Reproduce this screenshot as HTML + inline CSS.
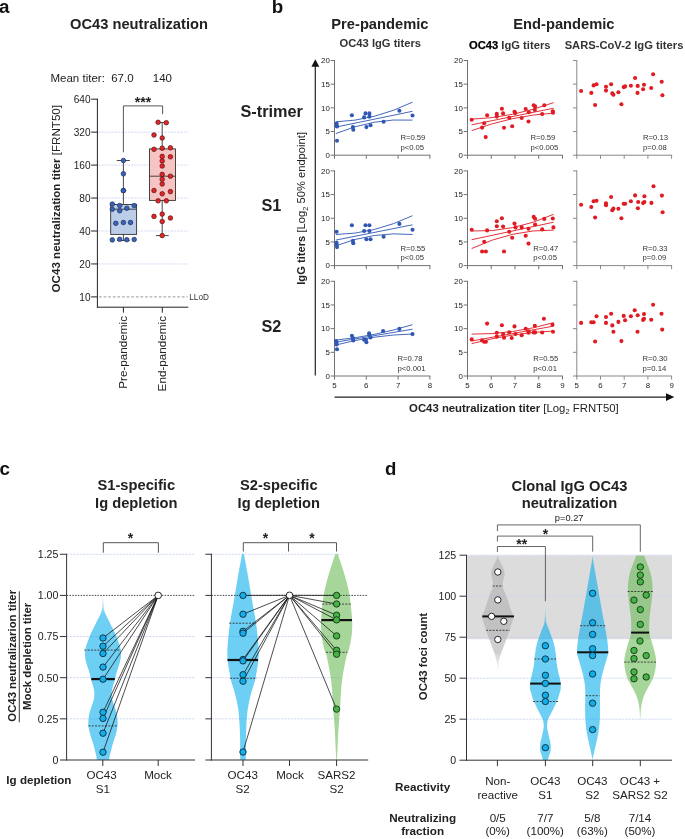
<!DOCTYPE html>
<html><head><meta charset="utf-8"><style>
html,body{margin:0;padding:0;background:#fff;}
svg{display:block;font-family:"Liberation Sans", sans-serif;will-change:transform;}
</style></head><body>
<svg width="685" height="839" viewBox="0 0 685 839">
<rect width="685" height="839" fill="#fff"/>
<text x="-1.00" y="13.40" font-size="18.8" font-weight="bold" text-anchor="start" fill="#111">a</text>
<text x="271.70" y="13.40" font-size="18.8" font-weight="bold" text-anchor="start" fill="#111">b</text>
<text x="-0.50" y="474.70" font-size="18.8" font-weight="bold" text-anchor="start" fill="#111">c</text>
<text x="385.00" y="474.50" font-size="18.6" font-weight="bold" text-anchor="start" fill="#111">d</text>
<text x="139.00" y="29.20" font-size="14.7" font-weight="bold" text-anchor="middle" fill="#222">OC43 neutralization</text>
<text x="50.50" y="81.60" font-size="11.5" text-anchor="start" fill="#222">Mean titer:</text>
<text x="111.20" y="81.60" font-size="11.5" text-anchor="start" fill="#222">67.0</text>
<text x="152.80" y="81.60" font-size="11.5" text-anchor="start" fill="#222">140</text>
<line x1="98.00" y1="132.15" x2="188.00" y2="132.15" stroke="#d5ddf3" stroke-width="1" stroke-dasharray="2.4,0.9"/>
<line x1="98.00" y1="165.10" x2="188.00" y2="165.10" stroke="#d5ddf3" stroke-width="1" stroke-dasharray="2.4,0.9"/>
<line x1="98.00" y1="198.05" x2="188.00" y2="198.05" stroke="#d5ddf3" stroke-width="1" stroke-dasharray="2.4,0.9"/>
<line x1="98.00" y1="231.00" x2="188.00" y2="231.00" stroke="#d5ddf3" stroke-width="1" stroke-dasharray="2.4,0.9"/>
<line x1="98.00" y1="263.95" x2="188.00" y2="263.95" stroke="#d5ddf3" stroke-width="1" stroke-dasharray="2.4,0.9"/>
<line x1="99.00" y1="296.90" x2="187.50" y2="296.90" stroke="#999" stroke-width="1" stroke-dasharray="2.8,1.8"/>
<text x="189.30" y="299.80" font-size="8.2" text-anchor="start" fill="#333">LLoD</text>
<line x1="97.40" y1="98.70" x2="97.40" y2="307.70" stroke="#222" stroke-width="1"/>
<line x1="96.90" y1="307.20" x2="188.30" y2="307.20" stroke="#222" stroke-width="1"/>
<line x1="91.20" y1="99.20" x2="97.40" y2="99.20" stroke="#222" stroke-width="1"/>
<text x="90.60" y="102.80" font-size="10.1" text-anchor="end" fill="#222">640</text>
<line x1="91.20" y1="132.15" x2="97.40" y2="132.15" stroke="#222" stroke-width="1"/>
<text x="90.60" y="135.75" font-size="10.1" text-anchor="end" fill="#222">320</text>
<line x1="91.20" y1="165.10" x2="97.40" y2="165.10" stroke="#222" stroke-width="1"/>
<text x="90.60" y="168.70" font-size="10.1" text-anchor="end" fill="#222">160</text>
<line x1="91.20" y1="198.05" x2="97.40" y2="198.05" stroke="#222" stroke-width="1"/>
<text x="90.60" y="201.65" font-size="10.1" text-anchor="end" fill="#222">80</text>
<line x1="91.20" y1="231.00" x2="97.40" y2="231.00" stroke="#222" stroke-width="1"/>
<text x="90.60" y="234.60" font-size="10.1" text-anchor="end" fill="#222">40</text>
<line x1="91.20" y1="263.95" x2="97.40" y2="263.95" stroke="#222" stroke-width="1"/>
<text x="90.60" y="267.55" font-size="10.1" text-anchor="end" fill="#222">20</text>
<line x1="91.20" y1="296.90" x2="97.40" y2="296.90" stroke="#222" stroke-width="1"/>
<text x="90.60" y="300.50" font-size="10.1" text-anchor="end" fill="#222">10</text>
<line x1="123.40" y1="307.20" x2="123.40" y2="312.70" stroke="#222" stroke-width="1"/>
<line x1="162.30" y1="307.20" x2="162.30" y2="312.70" stroke="#222" stroke-width="1"/>
<text x="0" y="0" font-size="11.6" text-anchor="middle" fill="#222" transform="translate(59.7 198.7) rotate(-90)"><tspan font-weight="bold">OC43 neutralization titer</tspan> [FRNT50]</text>
<text x="0.00" y="0.00" font-size="11.7" text-anchor="end" fill="#222" transform="translate(127.4 316) rotate(-90)">Pre-pandemic</text>
<text x="0.00" y="0.00" font-size="11.7" text-anchor="end" fill="#222" transform="translate(166.3 316) rotate(-90)">End-pandemic</text>
<rect x="110.7" y="204.5" width="25.9" height="29.9" fill="#bccde9" stroke="#333" stroke-width="0.9"/>
<line x1="110.70" y1="209.20" x2="136.60" y2="209.20" stroke="#333" stroke-width="0.9"/>
<line x1="123.40" y1="160.50" x2="123.40" y2="204.50" stroke="#333" stroke-width="0.9"/>
<line x1="123.40" y1="234.40" x2="123.40" y2="240.50" stroke="#333" stroke-width="0.9"/>
<line x1="117.00" y1="240.50" x2="129.70" y2="240.50" stroke="#333" stroke-width="0.9"/>
<line x1="116.80" y1="160.50" x2="129.90" y2="160.50" stroke="#333" stroke-width="0.9"/>
<rect x="149.5" y="148.9" width="26" height="51.5" fill="#f6c5c3" stroke="#333" stroke-width="0.9"/>
<line x1="149.50" y1="176.20" x2="175.50" y2="176.20" stroke="#333" stroke-width="0.9"/>
<line x1="162.20" y1="122.50" x2="162.20" y2="148.90" stroke="#333" stroke-width="0.9"/>
<line x1="162.20" y1="200.40" x2="162.20" y2="235.60" stroke="#333" stroke-width="0.9"/>
<line x1="156.00" y1="235.60" x2="168.70" y2="235.60" stroke="#333" stroke-width="0.9"/>
<line x1="156.00" y1="122.50" x2="168.30" y2="122.50" stroke="#333" stroke-width="0.9"/>
<polyline points="123.40,152.30 123.40,105.90 162.60,105.90 162.60,114.10" stroke="#444" stroke-width="0.9" fill="none"/>
<text x="143.00" y="106.60" font-size="14" font-weight="bold" text-anchor="middle" fill="#222">***</text>
<circle cx="123.40" cy="160.50" r="2.3" fill="#3a62b5" stroke="#1c2f5e" stroke-width="0.7"/>
<circle cx="123.40" cy="173.80" r="2.3" fill="#3a62b5" stroke="#1c2f5e" stroke-width="0.7"/>
<circle cx="123.40" cy="190.50" r="2.3" fill="#3a62b5" stroke="#1c2f5e" stroke-width="0.7"/>
<circle cx="123.40" cy="190.60" r="2.3" fill="#3a62b5" stroke="#1c2f5e" stroke-width="0.7"/>
<circle cx="112.30" cy="204.10" r="2.3" fill="#3a62b5" stroke="#1c2f5e" stroke-width="0.7"/>
<circle cx="119.70" cy="205.50" r="2.3" fill="#3a62b5" stroke="#1c2f5e" stroke-width="0.7"/>
<circle cx="134.20" cy="205.50" r="2.3" fill="#3a62b5" stroke="#1c2f5e" stroke-width="0.7"/>
<circle cx="112.30" cy="209.20" r="2.3" fill="#3a62b5" stroke="#1c2f5e" stroke-width="0.7"/>
<circle cx="119.70" cy="210.70" r="2.3" fill="#3a62b5" stroke="#1c2f5e" stroke-width="0.7"/>
<circle cx="126.80" cy="208.20" r="2.3" fill="#3a62b5" stroke="#1c2f5e" stroke-width="0.7"/>
<circle cx="115.80" cy="223.30" r="2.3" fill="#3a62b5" stroke="#1c2f5e" stroke-width="0.7"/>
<circle cx="123.40" cy="222.50" r="2.3" fill="#3a62b5" stroke="#1c2f5e" stroke-width="0.7"/>
<circle cx="130.50" cy="222.50" r="2.3" fill="#3a62b5" stroke="#1c2f5e" stroke-width="0.7"/>
<circle cx="112.30" cy="239.90" r="2.3" fill="#3a62b5" stroke="#1c2f5e" stroke-width="0.7"/>
<circle cx="119.70" cy="239.30" r="2.3" fill="#3a62b5" stroke="#1c2f5e" stroke-width="0.7"/>
<circle cx="126.80" cy="239.70" r="2.3" fill="#3a62b5" stroke="#1c2f5e" stroke-width="0.7"/>
<circle cx="134.20" cy="239.50" r="2.3" fill="#3a62b5" stroke="#1c2f5e" stroke-width="0.7"/>
<circle cx="158.10" cy="122.30" r="2.3" fill="#e0262a" stroke="#5a1010" stroke-width="0.7"/>
<circle cx="166.30" cy="122.70" r="2.3" fill="#e0262a" stroke="#5a1010" stroke-width="0.7"/>
<circle cx="154.00" cy="135.00" r="2.3" fill="#e0262a" stroke="#5a1010" stroke-width="0.7"/>
<circle cx="162.20" cy="138.00" r="2.3" fill="#e0262a" stroke="#5a1010" stroke-width="0.7"/>
<circle cx="154.00" cy="149.30" r="2.3" fill="#e0262a" stroke="#5a1010" stroke-width="0.7"/>
<circle cx="162.20" cy="148.20" r="2.3" fill="#e0262a" stroke="#5a1010" stroke-width="0.7"/>
<circle cx="170.40" cy="147.80" r="2.3" fill="#e0262a" stroke="#5a1010" stroke-width="0.7"/>
<circle cx="162.20" cy="156.40" r="2.3" fill="#e0262a" stroke="#5a1010" stroke-width="0.7"/>
<circle cx="170.40" cy="156.80" r="2.3" fill="#e0262a" stroke="#5a1010" stroke-width="0.7"/>
<circle cx="162.20" cy="160.90" r="2.3" fill="#e0262a" stroke="#5a1010" stroke-width="0.7"/>
<circle cx="162.20" cy="166.00" r="2.3" fill="#e0262a" stroke="#5a1010" stroke-width="0.7"/>
<circle cx="162.20" cy="174.40" r="2.3" fill="#e0262a" stroke="#5a1010" stroke-width="0.7"/>
<circle cx="170.40" cy="176.20" r="2.3" fill="#e0262a" stroke="#5a1010" stroke-width="0.7"/>
<circle cx="162.20" cy="179.30" r="2.3" fill="#e0262a" stroke="#5a1010" stroke-width="0.7"/>
<circle cx="162.20" cy="184.00" r="2.3" fill="#e0262a" stroke="#5a1010" stroke-width="0.7"/>
<circle cx="154.00" cy="190.50" r="2.3" fill="#e0262a" stroke="#5a1010" stroke-width="0.7"/>
<circle cx="162.20" cy="193.80" r="2.3" fill="#e0262a" stroke="#5a1010" stroke-width="0.7"/>
<circle cx="170.40" cy="191.60" r="2.3" fill="#e0262a" stroke="#5a1010" stroke-width="0.7"/>
<circle cx="158.10" cy="200.80" r="2.3" fill="#e0262a" stroke="#5a1010" stroke-width="0.7"/>
<circle cx="166.30" cy="200.80" r="2.3" fill="#e0262a" stroke="#5a1010" stroke-width="0.7"/>
<circle cx="154.00" cy="216.40" r="2.3" fill="#e0262a" stroke="#5a1010" stroke-width="0.7"/>
<circle cx="162.20" cy="214.10" r="2.3" fill="#e0262a" stroke="#5a1010" stroke-width="0.7"/>
<circle cx="170.40" cy="218.00" r="2.3" fill="#e0262a" stroke="#5a1010" stroke-width="0.7"/>
<circle cx="162.20" cy="221.50" r="2.3" fill="#e0262a" stroke="#5a1010" stroke-width="0.7"/>
<circle cx="162.20" cy="235.60" r="2.3" fill="#e0262a" stroke="#5a1010" stroke-width="0.7"/>
<text x="379.90" y="28.90" font-size="14.7" font-weight="bold" text-anchor="middle" fill="#222">Pre-pandemic</text>
<text x="380.30" y="47.10" font-size="11.2" font-weight="bold" text-anchor="middle" fill="#333">OC43 IgG titers</text>
<text x="563.90" y="29.00" font-size="14.7" font-weight="bold" text-anchor="middle" fill="#222">End-pandemic</text>
<text x="469.0" y="49.0" font-size="11.2" font-weight="bold" fill="#333"><tspan fill="#000" stroke="#000" stroke-width="0.25">OC43</tspan> IgG titers</text>
<text x="624.00" y="49.00" font-size="11.2" font-weight="bold" text-anchor="middle" fill="#333">SARS-CoV-2 IgG titers</text>
<text x="240.50" y="116.70" font-size="16.3" font-weight="bold" text-anchor="start" fill="#222">S-trimer</text>
<text x="261.50" y="210.70" font-size="16.3" font-weight="bold" text-anchor="start" fill="#222">S1</text>
<text x="261.50" y="331.90" font-size="16.3" font-weight="bold" text-anchor="start" fill="#222">S2</text>
<line x1="315.30" y1="64.00" x2="315.30" y2="375.50" stroke="#222" stroke-width="1.2"/>
<polygon points="315.3,59.3 311.4,66.7 319.3,66.7" fill="#111"/>
<text x="0" y="0" font-size="11.2" text-anchor="middle" fill="#222" transform="translate(305.3 208.4) rotate(-90)"><tspan font-weight="bold">IgG titers</tspan> [Log<tspan font-size="7.5" dy="2.5">2</tspan><tspan dy="-2.5"> 50% endpoint]</tspan></text>
<line x1="334.50" y1="397.10" x2="668.00" y2="397.10" stroke="#222" stroke-width="1.2"/>
<polygon points="674.3,397.1 666,393.3 666,400.9" fill="#111"/>
<text x="409.1" y="411.9" font-size="11.35" fill="#222"><tspan font-weight="bold">OC43 neutralization titer</tspan> [Log<tspan font-size="7.5" dy="2.5">2</tspan><tspan dy="-2.5"> FRNT50]</tspan></text>
<line x1="334.50" y1="60.00" x2="334.50" y2="155.70" stroke="#727272" stroke-width="1"/>
<line x1="334.00" y1="155.20" x2="430.40" y2="155.20" stroke="#727272" stroke-width="1"/>
<line x1="330.70" y1="155.20" x2="334.50" y2="155.20" stroke="#727272" stroke-width="1"/>
<text x="329.90" y="157.95" font-size="7.9" text-anchor="end" fill="#222">0</text>
<line x1="330.70" y1="131.52" x2="334.50" y2="131.52" stroke="#727272" stroke-width="1"/>
<text x="329.90" y="134.27" font-size="7.9" text-anchor="end" fill="#222">5</text>
<line x1="330.70" y1="107.85" x2="334.50" y2="107.85" stroke="#727272" stroke-width="1"/>
<text x="329.90" y="110.60" font-size="7.9" text-anchor="end" fill="#222">10</text>
<line x1="330.70" y1="84.17" x2="334.50" y2="84.17" stroke="#727272" stroke-width="1"/>
<text x="329.90" y="86.92" font-size="7.9" text-anchor="end" fill="#222">15</text>
<line x1="330.70" y1="60.50" x2="334.50" y2="60.50" stroke="#727272" stroke-width="1"/>
<text x="329.90" y="63.25" font-size="7.9" text-anchor="end" fill="#222">20</text>
<line x1="334.50" y1="155.20" x2="334.50" y2="158.80" stroke="#727272" stroke-width="1"/>
<line x1="366.30" y1="155.20" x2="366.30" y2="158.80" stroke="#727272" stroke-width="1"/>
<line x1="398.10" y1="155.20" x2="398.10" y2="158.80" stroke="#727272" stroke-width="1"/>
<line x1="429.90" y1="155.20" x2="429.90" y2="158.80" stroke="#727272" stroke-width="1"/>
<line x1="467.50" y1="60.00" x2="467.50" y2="155.70" stroke="#727272" stroke-width="1"/>
<line x1="467.00" y1="155.20" x2="563.00" y2="155.20" stroke="#727272" stroke-width="1"/>
<line x1="463.70" y1="155.20" x2="467.50" y2="155.20" stroke="#727272" stroke-width="1"/>
<text x="462.90" y="157.95" font-size="7.9" text-anchor="end" fill="#222">0</text>
<line x1="463.70" y1="131.52" x2="467.50" y2="131.52" stroke="#727272" stroke-width="1"/>
<text x="462.90" y="134.27" font-size="7.9" text-anchor="end" fill="#222">5</text>
<line x1="463.70" y1="107.85" x2="467.50" y2="107.85" stroke="#727272" stroke-width="1"/>
<text x="462.90" y="110.60" font-size="7.9" text-anchor="end" fill="#222">10</text>
<line x1="463.70" y1="84.17" x2="467.50" y2="84.17" stroke="#727272" stroke-width="1"/>
<text x="462.90" y="86.92" font-size="7.9" text-anchor="end" fill="#222">15</text>
<line x1="463.70" y1="60.50" x2="467.50" y2="60.50" stroke="#727272" stroke-width="1"/>
<text x="462.90" y="63.25" font-size="7.9" text-anchor="end" fill="#222">20</text>
<line x1="467.50" y1="155.20" x2="467.50" y2="158.80" stroke="#727272" stroke-width="1"/>
<line x1="491.25" y1="155.20" x2="491.25" y2="158.80" stroke="#727272" stroke-width="1"/>
<line x1="515.00" y1="155.20" x2="515.00" y2="158.80" stroke="#727272" stroke-width="1"/>
<line x1="538.75" y1="155.20" x2="538.75" y2="158.80" stroke="#727272" stroke-width="1"/>
<line x1="562.50" y1="155.20" x2="562.50" y2="158.80" stroke="#727272" stroke-width="1"/>
<line x1="576.80" y1="60.00" x2="576.80" y2="155.70" stroke="#888" stroke-width="1"/>
<line x1="576.30" y1="155.20" x2="672.10" y2="155.20" stroke="#888" stroke-width="1"/>
<line x1="573.00" y1="155.20" x2="576.80" y2="155.20" stroke="#888" stroke-width="1"/>
<line x1="573.00" y1="131.52" x2="576.80" y2="131.52" stroke="#888" stroke-width="1"/>
<line x1="573.00" y1="107.85" x2="576.80" y2="107.85" stroke="#888" stroke-width="1"/>
<line x1="573.00" y1="84.17" x2="576.80" y2="84.17" stroke="#888" stroke-width="1"/>
<line x1="573.00" y1="60.50" x2="576.80" y2="60.50" stroke="#888" stroke-width="1"/>
<line x1="576.80" y1="155.20" x2="576.80" y2="158.80" stroke="#888" stroke-width="1"/>
<line x1="600.50" y1="155.20" x2="600.50" y2="158.80" stroke="#888" stroke-width="1"/>
<line x1="624.20" y1="155.20" x2="624.20" y2="158.80" stroke="#888" stroke-width="1"/>
<line x1="647.90" y1="155.20" x2="647.90" y2="158.80" stroke="#888" stroke-width="1"/>
<line x1="671.60" y1="155.20" x2="671.60" y2="158.80" stroke="#888" stroke-width="1"/>
<line x1="334.50" y1="170.40" x2="334.50" y2="266.10" stroke="#727272" stroke-width="1"/>
<line x1="334.00" y1="265.60" x2="430.40" y2="265.60" stroke="#727272" stroke-width="1"/>
<line x1="330.70" y1="265.60" x2="334.50" y2="265.60" stroke="#727272" stroke-width="1"/>
<text x="329.90" y="268.35" font-size="7.9" text-anchor="end" fill="#222">0</text>
<line x1="330.70" y1="241.93" x2="334.50" y2="241.93" stroke="#727272" stroke-width="1"/>
<text x="329.90" y="244.68" font-size="7.9" text-anchor="end" fill="#222">5</text>
<line x1="330.70" y1="218.25" x2="334.50" y2="218.25" stroke="#727272" stroke-width="1"/>
<text x="329.90" y="221.00" font-size="7.9" text-anchor="end" fill="#222">10</text>
<line x1="330.70" y1="194.58" x2="334.50" y2="194.58" stroke="#727272" stroke-width="1"/>
<text x="329.90" y="197.33" font-size="7.9" text-anchor="end" fill="#222">15</text>
<line x1="330.70" y1="170.90" x2="334.50" y2="170.90" stroke="#727272" stroke-width="1"/>
<text x="329.90" y="173.65" font-size="7.9" text-anchor="end" fill="#222">20</text>
<line x1="334.50" y1="265.60" x2="334.50" y2="269.20" stroke="#727272" stroke-width="1"/>
<line x1="366.30" y1="265.60" x2="366.30" y2="269.20" stroke="#727272" stroke-width="1"/>
<line x1="398.10" y1="265.60" x2="398.10" y2="269.20" stroke="#727272" stroke-width="1"/>
<line x1="429.90" y1="265.60" x2="429.90" y2="269.20" stroke="#727272" stroke-width="1"/>
<line x1="467.50" y1="170.40" x2="467.50" y2="266.10" stroke="#727272" stroke-width="1"/>
<line x1="467.00" y1="265.60" x2="563.00" y2="265.60" stroke="#727272" stroke-width="1"/>
<line x1="463.70" y1="265.60" x2="467.50" y2="265.60" stroke="#727272" stroke-width="1"/>
<text x="462.90" y="268.35" font-size="7.9" text-anchor="end" fill="#222">0</text>
<line x1="463.70" y1="241.93" x2="467.50" y2="241.93" stroke="#727272" stroke-width="1"/>
<text x="462.90" y="244.68" font-size="7.9" text-anchor="end" fill="#222">5</text>
<line x1="463.70" y1="218.25" x2="467.50" y2="218.25" stroke="#727272" stroke-width="1"/>
<text x="462.90" y="221.00" font-size="7.9" text-anchor="end" fill="#222">10</text>
<line x1="463.70" y1="194.58" x2="467.50" y2="194.58" stroke="#727272" stroke-width="1"/>
<text x="462.90" y="197.33" font-size="7.9" text-anchor="end" fill="#222">15</text>
<line x1="463.70" y1="170.90" x2="467.50" y2="170.90" stroke="#727272" stroke-width="1"/>
<text x="462.90" y="173.65" font-size="7.9" text-anchor="end" fill="#222">20</text>
<line x1="467.50" y1="265.60" x2="467.50" y2="269.20" stroke="#727272" stroke-width="1"/>
<line x1="491.25" y1="265.60" x2="491.25" y2="269.20" stroke="#727272" stroke-width="1"/>
<line x1="515.00" y1="265.60" x2="515.00" y2="269.20" stroke="#727272" stroke-width="1"/>
<line x1="538.75" y1="265.60" x2="538.75" y2="269.20" stroke="#727272" stroke-width="1"/>
<line x1="562.50" y1="265.60" x2="562.50" y2="269.20" stroke="#727272" stroke-width="1"/>
<line x1="576.80" y1="170.40" x2="576.80" y2="266.10" stroke="#888" stroke-width="1"/>
<line x1="576.30" y1="265.60" x2="672.10" y2="265.60" stroke="#888" stroke-width="1"/>
<line x1="573.00" y1="265.60" x2="576.80" y2="265.60" stroke="#888" stroke-width="1"/>
<line x1="573.00" y1="241.93" x2="576.80" y2="241.93" stroke="#888" stroke-width="1"/>
<line x1="573.00" y1="218.25" x2="576.80" y2="218.25" stroke="#888" stroke-width="1"/>
<line x1="573.00" y1="194.58" x2="576.80" y2="194.58" stroke="#888" stroke-width="1"/>
<line x1="573.00" y1="170.90" x2="576.80" y2="170.90" stroke="#888" stroke-width="1"/>
<line x1="576.80" y1="265.60" x2="576.80" y2="269.20" stroke="#888" stroke-width="1"/>
<line x1="600.50" y1="265.60" x2="600.50" y2="269.20" stroke="#888" stroke-width="1"/>
<line x1="624.20" y1="265.60" x2="624.20" y2="269.20" stroke="#888" stroke-width="1"/>
<line x1="647.90" y1="265.60" x2="647.90" y2="269.20" stroke="#888" stroke-width="1"/>
<line x1="671.60" y1="265.60" x2="671.60" y2="269.20" stroke="#888" stroke-width="1"/>
<line x1="334.50" y1="280.80" x2="334.50" y2="376.50" stroke="#727272" stroke-width="1"/>
<line x1="334.00" y1="376.00" x2="430.40" y2="376.00" stroke="#727272" stroke-width="1"/>
<line x1="330.70" y1="376.00" x2="334.50" y2="376.00" stroke="#727272" stroke-width="1"/>
<text x="329.90" y="378.75" font-size="7.9" text-anchor="end" fill="#222">0</text>
<line x1="330.70" y1="352.32" x2="334.50" y2="352.32" stroke="#727272" stroke-width="1"/>
<text x="329.90" y="355.07" font-size="7.9" text-anchor="end" fill="#222">5</text>
<line x1="330.70" y1="328.65" x2="334.50" y2="328.65" stroke="#727272" stroke-width="1"/>
<text x="329.90" y="331.40" font-size="7.9" text-anchor="end" fill="#222">10</text>
<line x1="330.70" y1="304.98" x2="334.50" y2="304.98" stroke="#727272" stroke-width="1"/>
<text x="329.90" y="307.73" font-size="7.9" text-anchor="end" fill="#222">15</text>
<line x1="330.70" y1="281.30" x2="334.50" y2="281.30" stroke="#727272" stroke-width="1"/>
<text x="329.90" y="284.05" font-size="7.9" text-anchor="end" fill="#222">20</text>
<line x1="334.50" y1="376.00" x2="334.50" y2="379.60" stroke="#727272" stroke-width="1"/>
<text x="334.50" y="388.20" font-size="7.9" text-anchor="middle" fill="#222">5</text>
<line x1="366.30" y1="376.00" x2="366.30" y2="379.60" stroke="#727272" stroke-width="1"/>
<text x="366.30" y="388.20" font-size="7.9" text-anchor="middle" fill="#222">6</text>
<line x1="398.10" y1="376.00" x2="398.10" y2="379.60" stroke="#727272" stroke-width="1"/>
<text x="398.10" y="388.20" font-size="7.9" text-anchor="middle" fill="#222">7</text>
<line x1="429.90" y1="376.00" x2="429.90" y2="379.60" stroke="#727272" stroke-width="1"/>
<text x="429.90" y="388.20" font-size="7.9" text-anchor="middle" fill="#222">8</text>
<line x1="467.50" y1="280.80" x2="467.50" y2="376.50" stroke="#727272" stroke-width="1"/>
<line x1="467.00" y1="376.00" x2="563.00" y2="376.00" stroke="#727272" stroke-width="1"/>
<line x1="463.70" y1="376.00" x2="467.50" y2="376.00" stroke="#727272" stroke-width="1"/>
<text x="462.90" y="378.75" font-size="7.9" text-anchor="end" fill="#222">0</text>
<line x1="463.70" y1="352.32" x2="467.50" y2="352.32" stroke="#727272" stroke-width="1"/>
<text x="462.90" y="355.07" font-size="7.9" text-anchor="end" fill="#222">5</text>
<line x1="463.70" y1="328.65" x2="467.50" y2="328.65" stroke="#727272" stroke-width="1"/>
<text x="462.90" y="331.40" font-size="7.9" text-anchor="end" fill="#222">10</text>
<line x1="463.70" y1="304.98" x2="467.50" y2="304.98" stroke="#727272" stroke-width="1"/>
<text x="462.90" y="307.73" font-size="7.9" text-anchor="end" fill="#222">15</text>
<line x1="463.70" y1="281.30" x2="467.50" y2="281.30" stroke="#727272" stroke-width="1"/>
<text x="462.90" y="284.05" font-size="7.9" text-anchor="end" fill="#222">20</text>
<line x1="467.50" y1="376.00" x2="467.50" y2="379.60" stroke="#727272" stroke-width="1"/>
<text x="467.50" y="388.20" font-size="7.9" text-anchor="middle" fill="#222">5</text>
<line x1="491.25" y1="376.00" x2="491.25" y2="379.60" stroke="#727272" stroke-width="1"/>
<text x="491.25" y="388.20" font-size="7.9" text-anchor="middle" fill="#222">6</text>
<line x1="515.00" y1="376.00" x2="515.00" y2="379.60" stroke="#727272" stroke-width="1"/>
<text x="515.00" y="388.20" font-size="7.9" text-anchor="middle" fill="#222">7</text>
<line x1="538.75" y1="376.00" x2="538.75" y2="379.60" stroke="#727272" stroke-width="1"/>
<text x="538.75" y="388.20" font-size="7.9" text-anchor="middle" fill="#222">8</text>
<line x1="562.50" y1="376.00" x2="562.50" y2="379.60" stroke="#727272" stroke-width="1"/>
<text x="562.50" y="388.20" font-size="7.9" text-anchor="middle" fill="#222">9</text>
<line x1="576.80" y1="280.80" x2="576.80" y2="376.50" stroke="#888" stroke-width="1"/>
<line x1="576.30" y1="376.00" x2="672.10" y2="376.00" stroke="#888" stroke-width="1"/>
<line x1="573.00" y1="376.00" x2="576.80" y2="376.00" stroke="#888" stroke-width="1"/>
<line x1="573.00" y1="352.32" x2="576.80" y2="352.32" stroke="#888" stroke-width="1"/>
<line x1="573.00" y1="328.65" x2="576.80" y2="328.65" stroke="#888" stroke-width="1"/>
<line x1="573.00" y1="304.98" x2="576.80" y2="304.98" stroke="#888" stroke-width="1"/>
<line x1="573.00" y1="281.30" x2="576.80" y2="281.30" stroke="#888" stroke-width="1"/>
<line x1="576.80" y1="376.00" x2="576.80" y2="379.60" stroke="#888" stroke-width="1"/>
<text x="576.80" y="388.20" font-size="7.9" text-anchor="middle" fill="#222">5</text>
<line x1="600.50" y1="376.00" x2="600.50" y2="379.60" stroke="#888" stroke-width="1"/>
<text x="600.50" y="388.20" font-size="7.9" text-anchor="middle" fill="#222">6</text>
<line x1="624.20" y1="376.00" x2="624.20" y2="379.60" stroke="#888" stroke-width="1"/>
<text x="624.20" y="388.20" font-size="7.9" text-anchor="middle" fill="#222">7</text>
<line x1="647.90" y1="376.00" x2="647.90" y2="379.60" stroke="#888" stroke-width="1"/>
<text x="647.90" y="388.20" font-size="7.9" text-anchor="middle" fill="#222">8</text>
<line x1="671.60" y1="376.00" x2="671.60" y2="379.60" stroke="#888" stroke-width="1"/>
<text x="671.60" y="388.20" font-size="7.9" text-anchor="middle" fill="#222">9</text>
<path d="M335.80,121.80 Q374.15,120.64 412.50,102.20" stroke="#2f57b3" stroke-width="0.9" fill="none"/>
<line x1="335.80" y1="127.10" x2="412.50" y2="111.30" stroke="#2f57b3" stroke-width="0.9"/>
<path d="M335.80,133.60 Q374.15,117.67 412.50,120.10" stroke="#2f57b3" stroke-width="0.9" fill="none"/>
<path d="M471.70,119.20 Q512.70,117.62 553.70,102.60" stroke="#e01b22" stroke-width="0.9" fill="none"/>
<line x1="471.70" y1="124.80" x2="553.70" y2="108.20" stroke="#e01b22" stroke-width="0.9"/>
<path d="M471.70,130.60 Q512.70,115.43 553.70,113.10" stroke="#e01b22" stroke-width="0.9" fill="none"/>
<path d="M335.80,234.50 Q374.15,233.92 412.50,215.70" stroke="#2f57b3" stroke-width="0.9" fill="none"/>
<line x1="335.80" y1="240.10" x2="412.50" y2="224.80" stroke="#2f57b3" stroke-width="0.9"/>
<path d="M335.80,245.80 Q374.15,230.91 412.50,234.50" stroke="#2f57b3" stroke-width="0.9" fill="none"/>
<path d="M471.70,231.00 Q512.70,232.61 553.70,214.30" stroke="#e01b22" stroke-width="0.9" fill="none"/>
<line x1="471.70" y1="239.70" x2="553.70" y2="222.20" stroke="#e01b22" stroke-width="0.9"/>
<path d="M471.70,248.50 Q512.70,229.28 553.70,230.10" stroke="#e01b22" stroke-width="0.9" fill="none"/>
<path d="M335.80,340.10 Q374.15,336.36 412.50,324.70" stroke="#2f57b3" stroke-width="0.9" fill="none"/>
<line x1="335.80" y1="342.20" x2="412.50" y2="329.20" stroke="#2f57b3" stroke-width="0.9"/>
<path d="M335.80,345.00 Q374.15,334.94 412.50,334.00" stroke="#2f57b3" stroke-width="0.9" fill="none"/>
<path d="M471.70,334.10 Q512.70,334.59 553.70,322.60" stroke="#e01b22" stroke-width="0.9" fill="none"/>
<line x1="471.70" y1="341.00" x2="553.70" y2="326.10" stroke="#e01b22" stroke-width="0.9"/>
<path d="M471.70,343.60 Q512.70,332.80 553.70,331.00" stroke="#e01b22" stroke-width="0.9" fill="none"/>
<circle cx="336.60" cy="123.60" r="2.05" fill="#2f57b3" stroke="none" stroke-width="0.8"/>
<circle cx="336.60" cy="125.70" r="2.05" fill="#2f57b3" stroke="none" stroke-width="0.8"/>
<circle cx="337.00" cy="126.40" r="2.05" fill="#2f57b3" stroke="none" stroke-width="0.8"/>
<circle cx="337.00" cy="140.70" r="2.05" fill="#2f57b3" stroke="none" stroke-width="0.8"/>
<circle cx="351.90" cy="115.20" r="2.05" fill="#2f57b3" stroke="none" stroke-width="0.8"/>
<circle cx="352.90" cy="127.10" r="2.05" fill="#2f57b3" stroke="none" stroke-width="0.8"/>
<circle cx="353.30" cy="129.70" r="2.05" fill="#2f57b3" stroke="none" stroke-width="0.8"/>
<circle cx="364.10" cy="117.40" r="2.05" fill="#2f57b3" stroke="none" stroke-width="0.8"/>
<circle cx="365.50" cy="113.40" r="2.05" fill="#2f57b3" stroke="none" stroke-width="0.8"/>
<circle cx="369.40" cy="113.40" r="2.05" fill="#2f57b3" stroke="none" stroke-width="0.8"/>
<circle cx="369.40" cy="116.60" r="2.05" fill="#2f57b3" stroke="none" stroke-width="0.8"/>
<circle cx="366.40" cy="127.10" r="2.05" fill="#2f57b3" stroke="none" stroke-width="0.8"/>
<circle cx="370.50" cy="125.30" r="2.05" fill="#2f57b3" stroke="none" stroke-width="0.8"/>
<circle cx="383.60" cy="121.80" r="2.05" fill="#2f57b3" stroke="none" stroke-width="0.8"/>
<circle cx="399.40" cy="110.80" r="2.05" fill="#2f57b3" stroke="none" stroke-width="0.8"/>
<circle cx="412.50" cy="115.50" r="2.05" fill="#2f57b3" stroke="none" stroke-width="0.8"/>
<circle cx="471.70" cy="119.70" r="2.05" fill="#e01b22" stroke="none" stroke-width="0.8"/>
<circle cx="484.20" cy="123.20" r="2.05" fill="#e01b22" stroke="none" stroke-width="0.8"/>
<circle cx="482.10" cy="127.60" r="2.05" fill="#e01b22" stroke="none" stroke-width="0.8"/>
<circle cx="485.70" cy="137.10" r="2.05" fill="#e01b22" stroke="none" stroke-width="0.8"/>
<circle cx="487.10" cy="115.20" r="2.05" fill="#e01b22" stroke="none" stroke-width="0.8"/>
<circle cx="496.80" cy="113.90" r="2.05" fill="#e01b22" stroke="none" stroke-width="0.8"/>
<circle cx="496.80" cy="116.60" r="2.05" fill="#e01b22" stroke="none" stroke-width="0.8"/>
<circle cx="501.90" cy="108.70" r="2.05" fill="#e01b22" stroke="none" stroke-width="0.8"/>
<circle cx="503.10" cy="113.40" r="2.05" fill="#e01b22" stroke="none" stroke-width="0.8"/>
<circle cx="504.00" cy="127.80" r="2.05" fill="#e01b22" stroke="none" stroke-width="0.8"/>
<circle cx="509.20" cy="117.80" r="2.05" fill="#e01b22" stroke="none" stroke-width="0.8"/>
<circle cx="512.20" cy="126.20" r="2.05" fill="#e01b22" stroke="none" stroke-width="0.8"/>
<circle cx="514.50" cy="111.70" r="2.05" fill="#e01b22" stroke="none" stroke-width="0.8"/>
<circle cx="515.20" cy="113.10" r="2.05" fill="#e01b22" stroke="none" stroke-width="0.8"/>
<circle cx="521.70" cy="118.00" r="2.05" fill="#e01b22" stroke="none" stroke-width="0.8"/>
<circle cx="525.70" cy="109.00" r="2.05" fill="#e01b22" stroke="none" stroke-width="0.8"/>
<circle cx="528.50" cy="121.50" r="2.05" fill="#e01b22" stroke="none" stroke-width="0.8"/>
<circle cx="528.80" cy="112.20" r="2.05" fill="#e01b22" stroke="none" stroke-width="0.8"/>
<circle cx="533.70" cy="105.20" r="2.05" fill="#e01b22" stroke="none" stroke-width="0.8"/>
<circle cx="535.10" cy="106.40" r="2.05" fill="#e01b22" stroke="none" stroke-width="0.8"/>
<circle cx="534.80" cy="109.90" r="2.05" fill="#e01b22" stroke="none" stroke-width="0.8"/>
<circle cx="542.20" cy="114.10" r="2.05" fill="#e01b22" stroke="none" stroke-width="0.8"/>
<circle cx="544.30" cy="105.20" r="2.05" fill="#e01b22" stroke="none" stroke-width="0.8"/>
<circle cx="552.80" cy="111.30" r="2.05" fill="#e01b22" stroke="none" stroke-width="0.8"/>
<circle cx="553.00" cy="112.70" r="2.05" fill="#e01b22" stroke="none" stroke-width="0.8"/>
<circle cx="581.10" cy="91.00" r="2.05" fill="#e01b22" stroke="none" stroke-width="0.8"/>
<circle cx="591.30" cy="92.90" r="2.05" fill="#e01b22" stroke="none" stroke-width="0.8"/>
<circle cx="593.60" cy="85.40" r="2.05" fill="#e01b22" stroke="none" stroke-width="0.8"/>
<circle cx="596.50" cy="84.20" r="2.05" fill="#e01b22" stroke="none" stroke-width="0.8"/>
<circle cx="595.10" cy="105.00" r="2.05" fill="#e01b22" stroke="none" stroke-width="0.8"/>
<circle cx="606.00" cy="86.80" r="2.05" fill="#e01b22" stroke="none" stroke-width="0.8"/>
<circle cx="606.00" cy="90.60" r="2.05" fill="#e01b22" stroke="none" stroke-width="0.8"/>
<circle cx="611.10" cy="84.30" r="2.05" fill="#e01b22" stroke="none" stroke-width="0.8"/>
<circle cx="612.30" cy="93.40" r="2.05" fill="#e01b22" stroke="none" stroke-width="0.8"/>
<circle cx="613.40" cy="94.70" r="2.05" fill="#e01b22" stroke="none" stroke-width="0.8"/>
<circle cx="618.40" cy="92.20" r="2.05" fill="#e01b22" stroke="none" stroke-width="0.8"/>
<circle cx="621.40" cy="104.30" r="2.05" fill="#e01b22" stroke="none" stroke-width="0.8"/>
<circle cx="623.70" cy="87.10" r="2.05" fill="#e01b22" stroke="none" stroke-width="0.8"/>
<circle cx="625.10" cy="86.40" r="2.05" fill="#e01b22" stroke="none" stroke-width="0.8"/>
<circle cx="630.90" cy="85.70" r="2.05" fill="#e01b22" stroke="none" stroke-width="0.8"/>
<circle cx="635.10" cy="78.00" r="2.05" fill="#e01b22" stroke="none" stroke-width="0.8"/>
<circle cx="637.70" cy="85.90" r="2.05" fill="#e01b22" stroke="none" stroke-width="0.8"/>
<circle cx="637.50" cy="92.90" r="2.05" fill="#e01b22" stroke="none" stroke-width="0.8"/>
<circle cx="643.10" cy="89.20" r="2.05" fill="#e01b22" stroke="none" stroke-width="0.8"/>
<circle cx="644.00" cy="84.70" r="2.05" fill="#e01b22" stroke="none" stroke-width="0.8"/>
<circle cx="651.20" cy="88.00" r="2.05" fill="#e01b22" stroke="none" stroke-width="0.8"/>
<circle cx="653.10" cy="74.20" r="2.05" fill="#e01b22" stroke="none" stroke-width="0.8"/>
<circle cx="661.70" cy="81.70" r="2.05" fill="#e01b22" stroke="none" stroke-width="0.8"/>
<circle cx="662.40" cy="95.20" r="2.05" fill="#e01b22" stroke="none" stroke-width="0.8"/>
<circle cx="336.60" cy="231.80" r="2.05" fill="#2f57b3" stroke="none" stroke-width="0.8"/>
<circle cx="336.60" cy="242.70" r="2.05" fill="#2f57b3" stroke="none" stroke-width="0.8"/>
<circle cx="336.60" cy="245.00" r="2.05" fill="#2f57b3" stroke="none" stroke-width="0.8"/>
<circle cx="337.00" cy="247.10" r="2.05" fill="#2f57b3" stroke="none" stroke-width="0.8"/>
<circle cx="351.90" cy="225.20" r="2.05" fill="#2f57b3" stroke="none" stroke-width="0.8"/>
<circle cx="352.90" cy="240.90" r="2.05" fill="#2f57b3" stroke="none" stroke-width="0.8"/>
<circle cx="353.30" cy="243.20" r="2.05" fill="#2f57b3" stroke="none" stroke-width="0.8"/>
<circle cx="364.10" cy="231.00" r="2.05" fill="#2f57b3" stroke="none" stroke-width="0.8"/>
<circle cx="365.50" cy="225.20" r="2.05" fill="#2f57b3" stroke="none" stroke-width="0.8"/>
<circle cx="369.40" cy="225.20" r="2.05" fill="#2f57b3" stroke="none" stroke-width="0.8"/>
<circle cx="369.40" cy="231.00" r="2.05" fill="#2f57b3" stroke="none" stroke-width="0.8"/>
<circle cx="366.40" cy="239.20" r="2.05" fill="#2f57b3" stroke="none" stroke-width="0.8"/>
<circle cx="370.50" cy="239.20" r="2.05" fill="#2f57b3" stroke="none" stroke-width="0.8"/>
<circle cx="383.60" cy="236.70" r="2.05" fill="#2f57b3" stroke="none" stroke-width="0.8"/>
<circle cx="399.40" cy="223.90" r="2.05" fill="#2f57b3" stroke="none" stroke-width="0.8"/>
<circle cx="412.50" cy="229.70" r="2.05" fill="#2f57b3" stroke="none" stroke-width="0.8"/>
<circle cx="471.70" cy="229.70" r="2.05" fill="#e01b22" stroke="none" stroke-width="0.8"/>
<circle cx="484.20" cy="241.80" r="2.05" fill="#e01b22" stroke="none" stroke-width="0.8"/>
<circle cx="482.10" cy="251.50" r="2.05" fill="#e01b22" stroke="none" stroke-width="0.8"/>
<circle cx="485.90" cy="251.50" r="2.05" fill="#e01b22" stroke="none" stroke-width="0.8"/>
<circle cx="487.10" cy="230.40" r="2.05" fill="#e01b22" stroke="none" stroke-width="0.8"/>
<circle cx="496.80" cy="221.30" r="2.05" fill="#e01b22" stroke="none" stroke-width="0.8"/>
<circle cx="496.80" cy="226.20" r="2.05" fill="#e01b22" stroke="none" stroke-width="0.8"/>
<circle cx="501.90" cy="218.20" r="2.05" fill="#e01b22" stroke="none" stroke-width="0.8"/>
<circle cx="503.10" cy="226.60" r="2.05" fill="#e01b22" stroke="none" stroke-width="0.8"/>
<circle cx="504.00" cy="251.50" r="2.05" fill="#e01b22" stroke="none" stroke-width="0.8"/>
<circle cx="509.20" cy="231.80" r="2.05" fill="#e01b22" stroke="none" stroke-width="0.8"/>
<circle cx="512.20" cy="237.80" r="2.05" fill="#e01b22" stroke="none" stroke-width="0.8"/>
<circle cx="514.50" cy="223.60" r="2.05" fill="#e01b22" stroke="none" stroke-width="0.8"/>
<circle cx="515.50" cy="227.40" r="2.05" fill="#e01b22" stroke="none" stroke-width="0.8"/>
<circle cx="521.70" cy="227.40" r="2.05" fill="#e01b22" stroke="none" stroke-width="0.8"/>
<circle cx="525.70" cy="235.70" r="2.05" fill="#e01b22" stroke="none" stroke-width="0.8"/>
<circle cx="528.50" cy="228.70" r="2.05" fill="#e01b22" stroke="none" stroke-width="0.8"/>
<circle cx="528.50" cy="243.60" r="2.05" fill="#e01b22" stroke="none" stroke-width="0.8"/>
<circle cx="533.70" cy="216.90" r="2.05" fill="#e01b22" stroke="none" stroke-width="0.8"/>
<circle cx="535.10" cy="218.70" r="2.05" fill="#e01b22" stroke="none" stroke-width="0.8"/>
<circle cx="535.10" cy="224.50" r="2.05" fill="#e01b22" stroke="none" stroke-width="0.8"/>
<circle cx="542.20" cy="229.40" r="2.05" fill="#e01b22" stroke="none" stroke-width="0.8"/>
<circle cx="544.30" cy="218.90" r="2.05" fill="#e01b22" stroke="none" stroke-width="0.8"/>
<circle cx="552.80" cy="218.50" r="2.05" fill="#e01b22" stroke="none" stroke-width="0.8"/>
<circle cx="553.40" cy="227.40" r="2.05" fill="#e01b22" stroke="none" stroke-width="0.8"/>
<circle cx="581.10" cy="204.70" r="2.05" fill="#e01b22" stroke="none" stroke-width="0.8"/>
<circle cx="591.30" cy="207.00" r="2.05" fill="#e01b22" stroke="none" stroke-width="0.8"/>
<circle cx="593.60" cy="201.30" r="2.05" fill="#e01b22" stroke="none" stroke-width="0.8"/>
<circle cx="596.50" cy="200.80" r="2.05" fill="#e01b22" stroke="none" stroke-width="0.8"/>
<circle cx="595.10" cy="217.50" r="2.05" fill="#e01b22" stroke="none" stroke-width="0.8"/>
<circle cx="606.00" cy="203.40" r="2.05" fill="#e01b22" stroke="none" stroke-width="0.8"/>
<circle cx="606.00" cy="205.20" r="2.05" fill="#e01b22" stroke="none" stroke-width="0.8"/>
<circle cx="611.10" cy="197.00" r="2.05" fill="#e01b22" stroke="none" stroke-width="0.8"/>
<circle cx="612.30" cy="210.30" r="2.05" fill="#e01b22" stroke="none" stroke-width="0.8"/>
<circle cx="613.40" cy="208.50" r="2.05" fill="#e01b22" stroke="none" stroke-width="0.8"/>
<circle cx="618.40" cy="208.70" r="2.05" fill="#e01b22" stroke="none" stroke-width="0.8"/>
<circle cx="621.40" cy="218.20" r="2.05" fill="#e01b22" stroke="none" stroke-width="0.8"/>
<circle cx="623.70" cy="203.80" r="2.05" fill="#e01b22" stroke="none" stroke-width="0.8"/>
<circle cx="625.10" cy="203.80" r="2.05" fill="#e01b22" stroke="none" stroke-width="0.8"/>
<circle cx="630.90" cy="201.30" r="2.05" fill="#e01b22" stroke="none" stroke-width="0.8"/>
<circle cx="635.10" cy="195.40" r="2.05" fill="#e01b22" stroke="none" stroke-width="0.8"/>
<circle cx="638.20" cy="202.00" r="2.05" fill="#e01b22" stroke="none" stroke-width="0.8"/>
<circle cx="637.90" cy="208.20" r="2.05" fill="#e01b22" stroke="none" stroke-width="0.8"/>
<circle cx="643.10" cy="203.10" r="2.05" fill="#e01b22" stroke="none" stroke-width="0.8"/>
<circle cx="644.40" cy="202.00" r="2.05" fill="#e01b22" stroke="none" stroke-width="0.8"/>
<circle cx="644.40" cy="196.30" r="2.05" fill="#e01b22" stroke="none" stroke-width="0.8"/>
<circle cx="651.40" cy="202.90" r="2.05" fill="#e01b22" stroke="none" stroke-width="0.8"/>
<circle cx="653.50" cy="186.30" r="2.05" fill="#e01b22" stroke="none" stroke-width="0.8"/>
<circle cx="661.90" cy="195.60" r="2.05" fill="#e01b22" stroke="none" stroke-width="0.8"/>
<circle cx="662.60" cy="212.20" r="2.05" fill="#e01b22" stroke="none" stroke-width="0.8"/>
<circle cx="336.10" cy="341.00" r="2.05" fill="#2f57b3" stroke="none" stroke-width="0.8"/>
<circle cx="336.60" cy="342.70" r="2.05" fill="#2f57b3" stroke="none" stroke-width="0.8"/>
<circle cx="336.60" cy="344.50" r="2.05" fill="#2f57b3" stroke="none" stroke-width="0.8"/>
<circle cx="337.00" cy="349.20" r="2.05" fill="#2f57b3" stroke="none" stroke-width="0.8"/>
<circle cx="351.90" cy="335.70" r="2.05" fill="#2f57b3" stroke="none" stroke-width="0.8"/>
<circle cx="352.90" cy="338.00" r="2.05" fill="#2f57b3" stroke="none" stroke-width="0.8"/>
<circle cx="353.30" cy="340.40" r="2.05" fill="#2f57b3" stroke="none" stroke-width="0.8"/>
<circle cx="364.10" cy="339.70" r="2.05" fill="#2f57b3" stroke="none" stroke-width="0.8"/>
<circle cx="365.90" cy="339.70" r="2.05" fill="#2f57b3" stroke="none" stroke-width="0.8"/>
<circle cx="366.40" cy="342.20" r="2.05" fill="#2f57b3" stroke="none" stroke-width="0.8"/>
<circle cx="369.10" cy="333.40" r="2.05" fill="#2f57b3" stroke="none" stroke-width="0.8"/>
<circle cx="369.40" cy="334.80" r="2.05" fill="#2f57b3" stroke="none" stroke-width="0.8"/>
<circle cx="370.50" cy="337.40" r="2.05" fill="#2f57b3" stroke="none" stroke-width="0.8"/>
<circle cx="383.10" cy="331.00" r="2.05" fill="#2f57b3" stroke="none" stroke-width="0.8"/>
<circle cx="399.40" cy="328.90" r="2.05" fill="#2f57b3" stroke="none" stroke-width="0.8"/>
<circle cx="412.50" cy="334.10" r="2.05" fill="#2f57b3" stroke="none" stroke-width="0.8"/>
<circle cx="471.70" cy="339.40" r="2.05" fill="#e01b22" stroke="none" stroke-width="0.8"/>
<circle cx="482.10" cy="340.40" r="2.05" fill="#e01b22" stroke="none" stroke-width="0.8"/>
<circle cx="484.20" cy="341.80" r="2.05" fill="#e01b22" stroke="none" stroke-width="0.8"/>
<circle cx="485.90" cy="341.80" r="2.05" fill="#e01b22" stroke="none" stroke-width="0.8"/>
<circle cx="487.10" cy="323.60" r="2.05" fill="#e01b22" stroke="none" stroke-width="0.8"/>
<circle cx="496.80" cy="332.70" r="2.05" fill="#e01b22" stroke="none" stroke-width="0.8"/>
<circle cx="496.80" cy="336.60" r="2.05" fill="#e01b22" stroke="none" stroke-width="0.8"/>
<circle cx="501.90" cy="325.20" r="2.05" fill="#e01b22" stroke="none" stroke-width="0.8"/>
<circle cx="503.10" cy="334.00" r="2.05" fill="#e01b22" stroke="none" stroke-width="0.8"/>
<circle cx="504.00" cy="337.80" r="2.05" fill="#e01b22" stroke="none" stroke-width="0.8"/>
<circle cx="509.20" cy="332.20" r="2.05" fill="#e01b22" stroke="none" stroke-width="0.8"/>
<circle cx="511.70" cy="338.00" r="2.05" fill="#e01b22" stroke="none" stroke-width="0.8"/>
<circle cx="514.50" cy="326.40" r="2.05" fill="#e01b22" stroke="none" stroke-width="0.8"/>
<circle cx="515.50" cy="334.00" r="2.05" fill="#e01b22" stroke="none" stroke-width="0.8"/>
<circle cx="521.70" cy="335.20" r="2.05" fill="#e01b22" stroke="none" stroke-width="0.8"/>
<circle cx="525.70" cy="328.70" r="2.05" fill="#e01b22" stroke="none" stroke-width="0.8"/>
<circle cx="528.50" cy="331.30" r="2.05" fill="#e01b22" stroke="none" stroke-width="0.8"/>
<circle cx="528.50" cy="332.70" r="2.05" fill="#e01b22" stroke="none" stroke-width="0.8"/>
<circle cx="533.70" cy="332.40" r="2.05" fill="#e01b22" stroke="none" stroke-width="0.8"/>
<circle cx="534.80" cy="325.70" r="2.05" fill="#e01b22" stroke="none" stroke-width="0.8"/>
<circle cx="535.10" cy="332.40" r="2.05" fill="#e01b22" stroke="none" stroke-width="0.8"/>
<circle cx="542.20" cy="332.50" r="2.05" fill="#e01b22" stroke="none" stroke-width="0.8"/>
<circle cx="543.90" cy="318.70" r="2.05" fill="#e01b22" stroke="none" stroke-width="0.8"/>
<circle cx="552.50" cy="324.70" r="2.05" fill="#e01b22" stroke="none" stroke-width="0.8"/>
<circle cx="553.00" cy="331.70" r="2.05" fill="#e01b22" stroke="none" stroke-width="0.8"/>
<circle cx="581.10" cy="322.90" r="2.05" fill="#e01b22" stroke="none" stroke-width="0.8"/>
<circle cx="591.30" cy="322.20" r="2.05" fill="#e01b22" stroke="none" stroke-width="0.8"/>
<circle cx="593.60" cy="322.20" r="2.05" fill="#e01b22" stroke="none" stroke-width="0.8"/>
<circle cx="596.50" cy="316.30" r="2.05" fill="#e01b22" stroke="none" stroke-width="0.8"/>
<circle cx="595.10" cy="341.50" r="2.05" fill="#e01b22" stroke="none" stroke-width="0.8"/>
<circle cx="606.00" cy="317.00" r="2.05" fill="#e01b22" stroke="none" stroke-width="0.8"/>
<circle cx="606.00" cy="322.90" r="2.05" fill="#e01b22" stroke="none" stroke-width="0.8"/>
<circle cx="611.10" cy="313.80" r="2.05" fill="#e01b22" stroke="none" stroke-width="0.8"/>
<circle cx="612.30" cy="325.40" r="2.05" fill="#e01b22" stroke="none" stroke-width="0.8"/>
<circle cx="613.40" cy="331.70" r="2.05" fill="#e01b22" stroke="none" stroke-width="0.8"/>
<circle cx="618.40" cy="321.90" r="2.05" fill="#e01b22" stroke="none" stroke-width="0.8"/>
<circle cx="621.40" cy="341.10" r="2.05" fill="#e01b22" stroke="none" stroke-width="0.8"/>
<circle cx="623.70" cy="315.90" r="2.05" fill="#e01b22" stroke="none" stroke-width="0.8"/>
<circle cx="625.10" cy="320.30" r="2.05" fill="#e01b22" stroke="none" stroke-width="0.8"/>
<circle cx="630.90" cy="316.30" r="2.05" fill="#e01b22" stroke="none" stroke-width="0.8"/>
<circle cx="634.70" cy="310.30" r="2.05" fill="#e01b22" stroke="none" stroke-width="0.8"/>
<circle cx="637.70" cy="315.20" r="2.05" fill="#e01b22" stroke="none" stroke-width="0.8"/>
<circle cx="637.50" cy="331.70" r="2.05" fill="#e01b22" stroke="none" stroke-width="0.8"/>
<circle cx="643.10" cy="319.90" r="2.05" fill="#e01b22" stroke="none" stroke-width="0.8"/>
<circle cx="644.00" cy="318.70" r="2.05" fill="#e01b22" stroke="none" stroke-width="0.8"/>
<circle cx="644.00" cy="314.10" r="2.05" fill="#e01b22" stroke="none" stroke-width="0.8"/>
<circle cx="651.20" cy="319.80" r="2.05" fill="#e01b22" stroke="none" stroke-width="0.8"/>
<circle cx="653.10" cy="304.70" r="2.05" fill="#e01b22" stroke="none" stroke-width="0.8"/>
<circle cx="661.50" cy="313.80" r="2.05" fill="#e01b22" stroke="none" stroke-width="0.8"/>
<circle cx="662.20" cy="329.60" r="2.05" fill="#e01b22" stroke="none" stroke-width="0.8"/>
<text x="400.40" y="140.10" font-size="7.7" text-anchor="start" fill="#333">R=0.59</text>
<text x="400.40" y="150.00" font-size="7.7" text-anchor="start" fill="#333">p&lt;0.05</text>
<text x="530.40" y="140.10" font-size="7.7" text-anchor="start" fill="#333">R=0.59</text>
<text x="530.40" y="150.00" font-size="7.7" text-anchor="start" fill="#333">p&lt;0.005</text>
<text x="643.00" y="140.10" font-size="7.7" text-anchor="start" fill="#333">R=0.13</text>
<text x="643.00" y="150.00" font-size="7.7" text-anchor="start" fill="#333">p=0.08</text>
<text x="400.40" y="250.50" font-size="7.7" text-anchor="start" fill="#333">R=0.55</text>
<text x="400.40" y="260.40" font-size="7.7" text-anchor="start" fill="#333">p&lt;0.05</text>
<text x="533.20" y="250.50" font-size="7.7" text-anchor="start" fill="#333">R=0.47</text>
<text x="533.20" y="260.40" font-size="7.7" text-anchor="start" fill="#333">p&lt;0.05</text>
<text x="642.50" y="250.50" font-size="7.7" text-anchor="start" fill="#333">R=0.33</text>
<text x="642.50" y="260.40" font-size="7.7" text-anchor="start" fill="#333">p=0.09</text>
<text x="397.50" y="360.90" font-size="7.7" text-anchor="start" fill="#333">R=0.78</text>
<text x="397.50" y="370.80" font-size="7.7" text-anchor="start" fill="#333">p&lt;0.001</text>
<text x="533.20" y="360.90" font-size="7.7" text-anchor="start" fill="#333">R=0.55</text>
<text x="533.20" y="370.80" font-size="7.7" text-anchor="start" fill="#333">p&lt;0.01</text>
<text x="642.50" y="360.90" font-size="7.7" text-anchor="start" fill="#333">R=0.30</text>
<text x="642.50" y="370.80" font-size="7.7" text-anchor="start" fill="#333">p=0.14</text>
<text x="136.30" y="490.40" font-size="14.7" font-weight="bold" text-anchor="middle" fill="#222">S1-specific</text>
<text x="136.30" y="507.50" font-size="14.7" font-weight="bold" text-anchor="middle" fill="#222">Ig depletion</text>
<text x="278.80" y="490.40" font-size="14.7" font-weight="bold" text-anchor="middle" fill="#222">S2-specific</text>
<text x="278.80" y="507.50" font-size="14.7" font-weight="bold" text-anchor="middle" fill="#222">Ig depletion</text>
<line x1="66.60" y1="554.25" x2="195.50" y2="554.25" stroke="#ccd7f2" stroke-width="0.9" stroke-dasharray="2.4,0.9"/>
<line x1="66.60" y1="636.55" x2="195.50" y2="636.55" stroke="#ccd7f2" stroke-width="0.9" stroke-dasharray="2.4,0.9"/>
<line x1="66.60" y1="677.70" x2="195.50" y2="677.70" stroke="#ccd7f2" stroke-width="0.9" stroke-dasharray="2.4,0.9"/>
<line x1="66.60" y1="718.85" x2="195.50" y2="718.85" stroke="#ccd7f2" stroke-width="0.9" stroke-dasharray="2.4,0.9"/>
<line x1="211.60" y1="554.25" x2="341.00" y2="554.25" stroke="#ccd7f2" stroke-width="0.9" stroke-dasharray="2.4,0.9"/>
<line x1="211.60" y1="636.55" x2="341.00" y2="636.55" stroke="#ccd7f2" stroke-width="0.9" stroke-dasharray="2.4,0.9"/>
<line x1="211.60" y1="677.70" x2="341.00" y2="677.70" stroke="#ccd7f2" stroke-width="0.9" stroke-dasharray="2.4,0.9"/>
<line x1="211.60" y1="718.85" x2="341.00" y2="718.85" stroke="#ccd7f2" stroke-width="0.9" stroke-dasharray="2.4,0.9"/>
<linearGradient id="vg1" gradientUnits="userSpaceOnUse" x1="0" y1="592" x2="0" y2="614"><stop offset="0" stop-color="#00aaed" stop-opacity="0"/><stop offset="1" stop-color="#00aaed" stop-opacity="0.57"/></linearGradient>
<path d="M103.00,592.00 C103.06,593.33 103.23,597.38 103.35,600.00 C103.47,602.62 103.58,606.05 103.70,607.70 C103.83,609.35 103.77,608.77 104.10,609.90 C104.43,611.03 105.05,612.98 105.70,614.50 C106.35,616.02 107.15,617.30 108.00,619.00 C108.85,620.70 109.87,622.82 110.80,624.70 C111.73,626.58 112.70,628.42 113.60,630.30 C114.50,632.18 115.42,634.10 116.20,636.00 C116.98,637.90 117.63,639.82 118.30,641.70 C118.97,643.58 119.75,645.42 120.20,647.30 C120.65,649.18 120.92,651.12 121.00,653.00 C121.08,654.88 120.98,656.72 120.70,658.60 C120.42,660.48 119.85,662.40 119.30,664.30 C118.75,666.20 117.98,668.12 117.40,670.00 C116.82,671.88 116.20,674.02 115.80,675.60 C115.40,677.18 115.47,677.82 115.00,679.50 C114.53,681.18 113.53,683.77 113.00,685.70 C112.47,687.63 112.02,689.32 111.80,691.10 C111.58,692.88 111.52,694.62 111.70,696.40 C111.88,698.18 112.40,700.00 112.90,701.80 C113.40,703.60 114.12,705.42 114.70,707.20 C115.28,708.98 115.97,710.72 116.40,712.50 C116.83,714.28 117.08,716.10 117.30,717.90 C117.52,719.70 117.72,721.52 117.70,723.30 C117.68,725.08 117.50,726.82 117.20,728.60 C116.90,730.38 116.38,732.22 115.90,734.00 C115.42,735.78 114.87,737.52 114.30,739.30 C113.73,741.08 113.02,742.90 112.50,744.70 C111.98,746.50 111.65,748.32 111.20,750.10 C110.75,751.88 110.15,753.75 109.80,755.40 C109.45,757.05 109.22,759.23 109.10,760.00 L96.90,760.00 C96.78,759.23 96.55,757.05 96.20,755.40 C95.85,753.75 95.25,751.88 94.80,750.10 C94.35,748.32 94.02,746.50 93.50,744.70 C92.98,742.90 92.27,741.08 91.70,739.30 C91.13,737.52 90.58,735.78 90.10,734.00 C89.62,732.22 89.10,730.38 88.80,728.60 C88.50,726.82 88.32,725.08 88.30,723.30 C88.28,721.52 88.48,719.70 88.70,717.90 C88.92,716.10 89.17,714.28 89.60,712.50 C90.03,710.72 90.72,708.98 91.30,707.20 C91.88,705.42 92.60,703.60 93.10,701.80 C93.60,700.00 94.12,698.18 94.30,696.40 C94.48,694.62 94.42,692.88 94.20,691.10 C93.98,689.32 93.53,687.63 93.00,685.70 C92.47,683.77 91.47,681.18 91.00,679.50 C90.53,677.82 90.60,677.18 90.20,675.60 C89.80,674.02 89.18,671.88 88.60,670.00 C88.02,668.12 87.25,666.20 86.70,664.30 C86.15,662.40 85.58,660.48 85.30,658.60 C85.02,656.72 84.92,654.88 85.00,653.00 C85.08,651.12 85.35,649.18 85.80,647.30 C86.25,645.42 87.03,643.58 87.70,641.70 C88.37,639.82 89.02,637.90 89.80,636.00 C90.58,634.10 91.50,632.18 92.40,630.30 C93.30,628.42 94.27,626.58 95.20,624.70 C96.13,622.82 97.15,620.70 98.00,619.00 C98.85,617.30 99.65,616.02 100.30,614.50 C100.95,612.98 101.57,611.03 101.90,609.90 C102.23,608.77 102.17,609.35 102.30,607.70 C102.42,606.05 102.53,602.62 102.65,600.00 C102.77,597.38 102.94,593.33 103.00,592.00 Z" fill="url(#vg1)"/>
<path d="M243.00,553.90 C243.17,554.00 243.57,552.97 244.00,554.50 C244.43,556.03 244.93,559.48 245.60,563.10 C246.27,566.72 247.23,571.83 248.00,576.20 C248.77,580.57 249.47,584.93 250.20,589.30 C250.93,593.67 251.63,598.03 252.40,602.40 C253.17,606.77 254.07,611.12 254.80,615.50 C255.53,619.88 256.25,624.32 256.80,628.70 C257.35,633.08 257.80,638.25 258.10,641.80 C258.40,645.35 258.52,647.47 258.60,650.00 C258.68,652.53 258.68,655.00 258.60,657.00 C258.52,659.00 258.32,660.15 258.10,662.00 C257.88,663.85 257.63,665.98 257.30,668.10 C256.97,670.22 256.52,672.52 256.10,674.70 C255.68,676.88 255.42,678.80 254.80,681.20 C254.18,683.60 253.17,686.47 252.40,689.10 C251.63,691.73 250.85,694.38 250.20,697.00 C249.55,699.62 249.00,701.97 248.50,704.80 C248.00,707.63 247.57,710.28 247.20,714.00 C246.83,717.72 246.52,722.73 246.30,727.10 C246.08,731.47 245.97,735.83 245.90,740.20 C245.83,744.57 245.95,750.00 245.90,753.30 C245.85,756.60 245.65,758.88 245.60,760.00 L240.40,760.00 C240.35,758.88 240.15,756.60 240.10,753.30 C240.05,750.00 240.17,744.57 240.10,740.20 C240.03,735.83 239.92,731.47 239.70,727.10 C239.48,722.73 239.17,717.72 238.80,714.00 C238.43,710.28 238.00,707.63 237.50,704.80 C237.00,701.97 236.45,699.62 235.80,697.00 C235.15,694.38 234.37,691.73 233.60,689.10 C232.83,686.47 231.82,683.60 231.20,681.20 C230.58,678.80 230.32,676.88 229.90,674.70 C229.48,672.52 229.03,670.22 228.70,668.10 C228.37,665.98 228.12,663.85 227.90,662.00 C227.68,660.15 227.48,659.00 227.40,657.00 C227.32,655.00 227.32,652.53 227.40,650.00 C227.48,647.47 227.60,645.35 227.90,641.80 C228.20,638.25 228.65,633.08 229.20,628.70 C229.75,624.32 230.47,619.88 231.20,615.50 C231.93,611.12 232.83,606.77 233.60,602.40 C234.37,598.03 235.07,593.67 235.80,589.30 C236.53,584.93 237.23,580.57 238.00,576.20 C238.77,571.83 239.73,566.72 240.40,563.10 C241.07,559.48 241.57,556.03 242.00,554.50 C242.43,552.97 242.83,554.00 243.00,553.90 Z" fill="#00aaed" fill-opacity="0.57"/>
<path d="M336.60,553.90 C336.82,554.00 337.18,552.97 337.90,554.50 C338.62,556.03 339.72,559.48 340.90,563.10 C342.08,566.72 343.75,571.83 345.00,576.20 C346.25,580.57 347.48,584.93 348.40,589.30 C349.32,593.67 349.93,598.03 350.50,602.40 C351.07,606.77 351.52,612.00 351.80,615.50 C352.08,619.00 352.22,620.12 352.20,623.40 C352.18,626.68 352.20,631.05 351.70,635.20 C351.20,639.35 350.02,645.00 349.20,648.30 C348.38,651.60 347.43,652.78 346.80,655.00 C346.17,657.22 345.85,659.42 345.40,661.60 C344.95,663.78 344.58,665.48 344.10,668.10 C343.62,670.72 342.97,674.02 342.50,677.30 C342.03,680.58 341.63,683.87 341.30,687.80 C340.97,691.73 340.78,696.53 340.50,700.90 C340.22,705.27 339.92,709.63 339.60,714.00 C339.28,718.37 338.88,722.73 338.60,727.10 C338.32,731.47 338.12,735.83 337.90,740.20 C337.68,744.57 337.47,750.00 337.30,753.30 C337.13,756.60 336.97,758.88 336.90,760.00 L336.30,760.00 C336.23,758.88 336.07,756.60 335.90,753.30 C335.73,750.00 335.52,744.57 335.30,740.20 C335.08,735.83 334.88,731.47 334.60,727.10 C334.32,722.73 333.92,718.37 333.60,714.00 C333.28,709.63 332.98,705.27 332.70,700.90 C332.42,696.53 332.23,691.73 331.90,687.80 C331.57,683.87 331.17,680.58 330.70,677.30 C330.23,674.02 329.58,670.72 329.10,668.10 C328.62,665.48 328.25,663.78 327.80,661.60 C327.35,659.42 327.03,657.22 326.40,655.00 C325.77,652.78 324.82,651.60 324.00,648.30 C323.18,645.00 322.00,639.35 321.50,635.20 C321.00,631.05 321.02,626.68 321.00,623.40 C320.98,620.12 321.12,619.00 321.40,615.50 C321.68,612.00 322.13,606.77 322.70,602.40 C323.27,598.03 323.88,593.67 324.80,589.30 C325.72,584.93 326.95,580.57 328.20,576.20 C329.45,571.83 331.12,566.72 332.30,563.10 C333.48,559.48 334.58,556.03 335.30,554.50 C336.02,552.97 336.38,554.00 336.60,553.90 Z" fill="#66b851" fill-opacity="0.58"/>
<line x1="66.60" y1="595.40" x2="195.00" y2="595.40" stroke="#222" stroke-width="0.8" stroke-dasharray="1.6,1.2"/>
<line x1="211.40" y1="595.40" x2="368.20" y2="595.40" stroke="#222" stroke-width="0.8" stroke-dasharray="1.6,1.2"/>
<line x1="91.30" y1="679.10" x2="114.80" y2="679.10" stroke="#111" stroke-width="2.2"/>
<line x1="84.30" y1="650.10" x2="120.80" y2="650.10" stroke="#333" stroke-width="0.9" stroke-dasharray="2,1.3"/>
<line x1="88.40" y1="725.90" x2="117.50" y2="725.90" stroke="#333" stroke-width="0.9" stroke-dasharray="2,1.3"/>
<line x1="227.50" y1="660.00" x2="258.00" y2="660.00" stroke="#111" stroke-width="2.2"/>
<line x1="229.20" y1="623.20" x2="256.30" y2="623.20" stroke="#333" stroke-width="0.9" stroke-dasharray="2,1.3"/>
<line x1="230.10" y1="678.30" x2="256.80" y2="678.30" stroke="#333" stroke-width="0.9" stroke-dasharray="2,1.3"/>
<line x1="321.30" y1="620.10" x2="352.00" y2="620.10" stroke="#111" stroke-width="2.2"/>
<line x1="322.20" y1="604.10" x2="350.70" y2="604.10" stroke="#333" stroke-width="0.9" stroke-dasharray="2,1.3"/>
<line x1="326.10" y1="652.30" x2="347.20" y2="652.30" stroke="#333" stroke-width="0.9" stroke-dasharray="2,1.3"/>
<line x1="103.00" y1="638.00" x2="158.20" y2="595.40" stroke="#111" stroke-width="0.75"/>
<line x1="103.00" y1="646.20" x2="158.20" y2="595.40" stroke="#111" stroke-width="0.75"/>
<line x1="103.00" y1="653.50" x2="158.20" y2="595.40" stroke="#111" stroke-width="0.75"/>
<line x1="103.00" y1="667.10" x2="158.20" y2="595.40" stroke="#111" stroke-width="0.75"/>
<line x1="103.00" y1="679.20" x2="158.20" y2="595.40" stroke="#111" stroke-width="0.75"/>
<line x1="103.00" y1="712.30" x2="158.20" y2="595.40" stroke="#111" stroke-width="0.75"/>
<line x1="103.00" y1="718.40" x2="158.20" y2="595.40" stroke="#111" stroke-width="0.75"/>
<line x1="103.00" y1="733.20" x2="158.20" y2="595.40" stroke="#111" stroke-width="0.75"/>
<line x1="103.00" y1="752.20" x2="158.20" y2="595.40" stroke="#111" stroke-width="0.75"/>
<line x1="243.00" y1="595.40" x2="289.50" y2="595.30" stroke="#111" stroke-width="0.75"/>
<line x1="243.00" y1="614.20" x2="289.50" y2="595.30" stroke="#111" stroke-width="0.75"/>
<line x1="243.00" y1="631.30" x2="289.50" y2="595.30" stroke="#111" stroke-width="0.75"/>
<line x1="243.00" y1="633.20" x2="289.50" y2="595.30" stroke="#111" stroke-width="0.75"/>
<line x1="243.00" y1="659.50" x2="289.50" y2="595.30" stroke="#111" stroke-width="0.75"/>
<line x1="243.00" y1="660.90" x2="289.50" y2="595.30" stroke="#111" stroke-width="0.75"/>
<line x1="243.00" y1="674.70" x2="289.50" y2="595.30" stroke="#111" stroke-width="0.75"/>
<line x1="243.00" y1="681.20" x2="289.50" y2="595.30" stroke="#111" stroke-width="0.75"/>
<line x1="243.00" y1="752.00" x2="289.50" y2="595.30" stroke="#111" stroke-width="0.75"/>
<line x1="336.60" y1="595.40" x2="289.50" y2="595.30" stroke="#111" stroke-width="0.75"/>
<line x1="336.60" y1="604.00" x2="289.50" y2="595.30" stroke="#111" stroke-width="0.75"/>
<line x1="336.60" y1="615.20" x2="289.50" y2="595.30" stroke="#111" stroke-width="0.75"/>
<line x1="336.60" y1="619.90" x2="289.50" y2="595.30" stroke="#111" stroke-width="0.75"/>
<line x1="336.60" y1="635.90" x2="289.50" y2="595.30" stroke="#111" stroke-width="0.75"/>
<line x1="336.60" y1="650.30" x2="289.50" y2="595.30" stroke="#111" stroke-width="0.75"/>
<line x1="336.60" y1="654.20" x2="289.50" y2="595.30" stroke="#111" stroke-width="0.75"/>
<line x1="336.60" y1="709.10" x2="289.50" y2="595.30" stroke="#111" stroke-width="0.75"/>
<circle cx="103.00" cy="638.00" r="3.2" fill="#12aeea" stroke="#0d2a3a" stroke-width="0.9"/>
<circle cx="103.00" cy="646.20" r="3.2" fill="#12aeea" stroke="#0d2a3a" stroke-width="0.9"/>
<circle cx="103.00" cy="653.50" r="3.2" fill="#12aeea" stroke="#0d2a3a" stroke-width="0.9"/>
<circle cx="103.00" cy="667.10" r="3.2" fill="#12aeea" stroke="#0d2a3a" stroke-width="0.9"/>
<circle cx="103.00" cy="679.20" r="3.2" fill="#12aeea" stroke="#0d2a3a" stroke-width="0.9"/>
<circle cx="103.00" cy="712.30" r="3.2" fill="#12aeea" stroke="#0d2a3a" stroke-width="0.9"/>
<circle cx="103.00" cy="718.40" r="3.2" fill="#12aeea" stroke="#0d2a3a" stroke-width="0.9"/>
<circle cx="103.00" cy="733.20" r="3.2" fill="#12aeea" stroke="#0d2a3a" stroke-width="0.9"/>
<circle cx="103.00" cy="752.20" r="3.2" fill="#12aeea" stroke="#0d2a3a" stroke-width="0.9"/>
<circle cx="243.00" cy="595.40" r="3.2" fill="#12aeea" stroke="#0d2a3a" stroke-width="0.9"/>
<circle cx="243.00" cy="614.20" r="3.2" fill="#12aeea" stroke="#0d2a3a" stroke-width="0.9"/>
<circle cx="243.00" cy="631.30" r="3.2" fill="#12aeea" stroke="#0d2a3a" stroke-width="0.9"/>
<circle cx="243.00" cy="633.20" r="3.2" fill="#12aeea" stroke="#0d2a3a" stroke-width="0.9"/>
<circle cx="243.00" cy="659.50" r="3.2" fill="#12aeea" stroke="#0d2a3a" stroke-width="0.9"/>
<circle cx="243.00" cy="660.90" r="3.2" fill="#12aeea" stroke="#0d2a3a" stroke-width="0.9"/>
<circle cx="243.00" cy="674.70" r="3.2" fill="#12aeea" stroke="#0d2a3a" stroke-width="0.9"/>
<circle cx="243.00" cy="681.20" r="3.2" fill="#12aeea" stroke="#0d2a3a" stroke-width="0.9"/>
<circle cx="243.00" cy="752.00" r="3.2" fill="#12aeea" stroke="#0d2a3a" stroke-width="0.9"/>
<circle cx="336.60" cy="595.40" r="3.2" fill="#45b345" stroke="#173417" stroke-width="0.9"/>
<circle cx="336.60" cy="604.00" r="3.2" fill="#45b345" stroke="#173417" stroke-width="0.9"/>
<circle cx="336.60" cy="615.20" r="3.2" fill="#45b345" stroke="#173417" stroke-width="0.9"/>
<circle cx="336.60" cy="619.90" r="3.2" fill="#45b345" stroke="#173417" stroke-width="0.9"/>
<circle cx="336.60" cy="635.90" r="3.2" fill="#45b345" stroke="#173417" stroke-width="0.9"/>
<circle cx="336.60" cy="650.30" r="3.2" fill="#45b345" stroke="#173417" stroke-width="0.9"/>
<circle cx="336.60" cy="654.20" r="3.2" fill="#45b345" stroke="#173417" stroke-width="0.9"/>
<circle cx="336.60" cy="709.10" r="3.2" fill="#45b345" stroke="#173417" stroke-width="0.9"/>
<circle cx="158.20" cy="595.40" r="3.3" fill="#fff" stroke="#111" stroke-width="0.9"/>
<circle cx="289.50" cy="595.30" r="3.3" fill="#fff" stroke="#111" stroke-width="0.9"/>
<line x1="66.60" y1="553.70" x2="66.60" y2="760.50" stroke="#333" stroke-width="1"/>
<line x1="66.10" y1="760.00" x2="195.00" y2="760.00" stroke="#333" stroke-width="1"/>
<line x1="59.90" y1="554.25" x2="66.60" y2="554.25" stroke="#333" stroke-width="1"/>
<text x="58.40" y="558.05" font-size="10.6" text-anchor="end" fill="#222">1.25</text>
<line x1="59.90" y1="595.40" x2="66.60" y2="595.40" stroke="#333" stroke-width="1"/>
<text x="58.40" y="599.20" font-size="10.6" text-anchor="end" fill="#222">1.00</text>
<line x1="59.90" y1="636.55" x2="66.60" y2="636.55" stroke="#333" stroke-width="1"/>
<text x="58.40" y="640.35" font-size="10.6" text-anchor="end" fill="#222">0.75</text>
<line x1="59.90" y1="677.70" x2="66.60" y2="677.70" stroke="#333" stroke-width="1"/>
<text x="58.40" y="681.50" font-size="10.6" text-anchor="end" fill="#222">0.50</text>
<line x1="59.90" y1="718.85" x2="66.60" y2="718.85" stroke="#333" stroke-width="1"/>
<text x="58.40" y="722.65" font-size="10.6" text-anchor="end" fill="#222">0.25</text>
<line x1="59.90" y1="760.00" x2="66.60" y2="760.00" stroke="#333" stroke-width="1"/>
<text x="58.40" y="763.80" font-size="10.6" text-anchor="end" fill="#222">0</text>
<line x1="102.80" y1="760.00" x2="102.80" y2="766.00" stroke="#333" stroke-width="1"/>
<line x1="158.20" y1="760.00" x2="158.20" y2="766.00" stroke="#333" stroke-width="1"/>
<line x1="211.40" y1="553.70" x2="211.40" y2="760.50" stroke="#333" stroke-width="1"/>
<line x1="210.90" y1="760.00" x2="368.20" y2="760.00" stroke="#333" stroke-width="1"/>
<line x1="205.40" y1="554.25" x2="211.40" y2="554.25" stroke="#333" stroke-width="1"/>
<line x1="205.40" y1="595.40" x2="211.40" y2="595.40" stroke="#333" stroke-width="1"/>
<line x1="205.40" y1="636.55" x2="211.40" y2="636.55" stroke="#333" stroke-width="1"/>
<line x1="205.40" y1="677.70" x2="211.40" y2="677.70" stroke="#333" stroke-width="1"/>
<line x1="205.40" y1="718.85" x2="211.40" y2="718.85" stroke="#333" stroke-width="1"/>
<line x1="205.40" y1="760.00" x2="211.40" y2="760.00" stroke="#333" stroke-width="1"/>
<line x1="243.00" y1="760.00" x2="243.00" y2="766.00" stroke="#333" stroke-width="1"/>
<line x1="289.50" y1="760.00" x2="289.50" y2="766.00" stroke="#333" stroke-width="1"/>
<line x1="336.60" y1="760.00" x2="336.60" y2="766.00" stroke="#333" stroke-width="1"/>
<polyline points="103.30,552.70 103.30,542.70 158.40,542.70 158.40,552.70" stroke="#444" stroke-width="0.9" fill="none"/>
<text x="130.60" y="542.70" font-size="14" font-weight="bold" text-anchor="middle" fill="#222">*</text>
<polyline points="243.30,551.50 243.30,542.70 336.50,542.70 336.50,551.50" stroke="#444" stroke-width="0.9" fill="none"/>
<line x1="288.50" y1="542.70" x2="288.50" y2="551.50" stroke="#444" stroke-width="0.9"/>
<text x="265.50" y="542.70" font-size="14" font-weight="bold" text-anchor="middle" fill="#222">*</text>
<text x="312.00" y="542.70" font-size="14" font-weight="bold" text-anchor="middle" fill="#222">*</text>
<text x="0" y="0" font-size="11.35" font-weight="bold" text-anchor="middle" fill="#222" transform="translate(15.9 655.8) rotate(-90)">OC43 neutralizarion titer</text>
<line x1="19.30" y1="591.30" x2="19.30" y2="722.30" stroke="#222" stroke-width="0.9"/>
<text x="0" y="0" font-size="11.35" font-weight="bold" text-anchor="middle" fill="#222" transform="translate(30.6 656.3) rotate(-90)">Mock depletion titer</text>
<text x="38.90" y="784.30" font-size="11.6" font-weight="bold" text-anchor="middle" fill="#222">Ig depletion</text>
<text x="101.60" y="778.90" font-size="11.6" text-anchor="middle" fill="#222">OC43</text>
<text x="102.80" y="792.80" font-size="11.6" text-anchor="middle" fill="#222">S1</text>
<text x="158.00" y="778.90" font-size="11.6" text-anchor="middle" fill="#222">Mock</text>
<text x="242.70" y="778.90" font-size="11.6" text-anchor="middle" fill="#222">OC43</text>
<text x="242.70" y="792.80" font-size="11.6" text-anchor="middle" fill="#222">S2</text>
<text x="290.00" y="778.90" font-size="11.6" text-anchor="middle" fill="#222">Mock</text>
<text x="336.50" y="778.90" font-size="11.6" text-anchor="middle" fill="#222">SARS2</text>
<text x="336.50" y="792.80" font-size="11.6" text-anchor="middle" fill="#222">S2</text>
<text x="569.50" y="491.00" font-size="14.7" font-weight="bold" text-anchor="middle" fill="#222">Clonal IgG OC43</text>
<text x="569.40" y="508.30" font-size="14.7" font-weight="bold" text-anchor="middle" fill="#222">neutralization</text>
<rect x="466.5" y="555.4" width="205.5" height="83.8" fill="#dcdcdc"/>
<line x1="466.50" y1="555.20" x2="672.00" y2="555.20" stroke="#ccd7f2" stroke-width="0.9" stroke-dasharray="2.4,0.9"/>
<line x1="466.50" y1="596.20" x2="672.00" y2="596.20" stroke="#ccd7f2" stroke-width="0.9" stroke-dasharray="2.4,0.9"/>
<line x1="466.50" y1="637.20" x2="672.00" y2="637.20" stroke="#ccd7f2" stroke-width="0.9" stroke-dasharray="2.4,0.9"/>
<line x1="466.50" y1="678.20" x2="672.00" y2="678.20" stroke="#ccd7f2" stroke-width="0.9" stroke-dasharray="2.4,0.9"/>
<line x1="466.50" y1="719.20" x2="672.00" y2="719.20" stroke="#ccd7f2" stroke-width="0.9" stroke-dasharray="2.4,0.9"/>
<linearGradient id="vg2" gradientUnits="userSpaceOnUse" x1="0" y1="652" x2="0" y2="672"><stop offset="0" stop-color="#b0b0b0" stop-opacity="0.6"/><stop offset="1" stop-color="#b0b0b0" stop-opacity="0"/></linearGradient>
<path d="M497.80,555.40 C498.00,556.05 498.42,557.87 499.00,559.30 C499.58,560.73 500.47,562.18 501.30,564.00 C502.13,565.82 503.47,568.40 504.00,570.20 C504.53,572.00 504.67,573.00 504.50,574.80 C504.33,576.60 503.28,578.93 503.00,581.00 C502.72,583.07 502.40,585.13 502.80,587.20 C503.20,589.27 504.52,591.07 505.40,593.40 C506.28,595.73 507.23,598.62 508.10,601.20 C508.97,603.78 509.70,606.32 510.60,608.90 C511.50,611.48 513.37,614.12 513.50,616.70 C513.63,619.28 512.18,621.82 511.40,624.40 C510.62,626.98 509.68,629.62 508.80,632.20 C507.92,634.78 507.03,637.32 506.10,639.90 C505.17,642.48 504.15,645.12 503.20,647.70 C502.25,650.28 501.10,653.08 500.40,655.40 C499.70,657.72 499.33,659.53 499.00,661.60 C498.67,663.67 498.60,665.73 498.40,667.80 C498.20,669.87 497.90,672.97 497.80,674.00 L497.80,674.00 C497.70,672.97 497.40,669.87 497.20,667.80 C497.00,665.73 496.93,663.67 496.60,661.60 C496.27,659.53 495.90,657.72 495.20,655.40 C494.50,653.08 493.35,650.28 492.40,647.70 C491.45,645.12 490.43,642.48 489.50,639.90 C488.57,637.32 487.68,634.78 486.80,632.20 C485.92,629.62 484.98,626.98 484.20,624.40 C483.42,621.82 481.97,619.28 482.10,616.70 C482.23,614.12 484.10,611.48 485.00,608.90 C485.90,606.32 486.63,603.78 487.50,601.20 C488.37,598.62 489.32,595.73 490.20,593.40 C491.08,591.07 492.40,589.27 492.80,587.20 C493.20,585.13 492.88,583.07 492.60,581.00 C492.32,578.93 491.27,576.60 491.10,574.80 C490.93,573.00 491.07,572.00 491.60,570.20 C492.13,568.40 493.47,565.82 494.30,564.00 C495.13,562.18 496.02,560.73 496.60,559.30 C497.18,557.87 497.60,556.05 497.80,555.40 Z" fill="url(#vg2)"/>
<linearGradient id="vg3" gradientUnits="userSpaceOnUse" x1="0" y1="606" x2="0" y2="624"><stop offset="0" stop-color="#00aaed" stop-opacity="0"/><stop offset="1" stop-color="#00aaed" stop-opacity="0.57"/></linearGradient>
<path d="M545.40,606.30 C545.45,607.25 545.60,610.10 545.70,612.00 C545.80,613.90 545.87,615.82 546.00,617.70 C546.13,619.58 546.05,621.42 546.50,623.30 C546.95,625.18 547.98,627.10 548.70,629.00 C549.42,630.90 550.10,632.82 550.80,634.70 C551.50,636.58 552.30,638.42 552.90,640.30 C553.50,642.18 553.98,644.10 554.40,646.00 C554.82,647.90 555.12,649.82 555.40,651.70 C555.68,653.58 555.90,655.42 556.10,657.30 C556.30,659.18 556.35,661.10 556.60,663.00 C556.85,664.90 557.23,666.82 557.60,668.70 C557.97,670.58 558.37,672.42 558.80,674.30 C559.23,676.18 559.87,678.10 560.20,680.00 C560.53,681.90 560.73,684.02 560.80,685.70 C560.87,687.38 560.80,688.85 560.60,690.10 C560.40,691.35 560.02,691.85 559.60,693.20 C559.18,694.55 558.70,696.52 558.10,698.20 C557.50,699.88 556.75,701.60 556.00,703.30 C555.25,705.00 554.43,706.72 553.60,708.40 C552.77,710.08 551.87,711.72 551.00,713.40 C550.13,715.08 549.02,716.97 548.40,718.50 C547.78,720.03 547.52,721.08 547.30,722.60 C547.08,724.12 546.97,725.92 547.10,727.60 C547.23,729.28 547.70,730.83 548.10,732.70 C548.50,734.57 549.07,736.77 549.50,738.80 C549.93,740.83 550.53,742.88 550.70,744.90 C550.87,746.92 550.80,749.05 550.50,750.90 C550.20,752.75 549.33,754.45 548.90,756.00 C548.47,757.55 548.07,759.50 547.90,760.20 L542.90,760.20 C542.73,759.50 542.33,757.55 541.90,756.00 C541.47,754.45 540.60,752.75 540.30,750.90 C540.00,749.05 539.93,746.92 540.10,744.90 C540.27,742.88 540.87,740.83 541.30,738.80 C541.73,736.77 542.30,734.57 542.70,732.70 C543.10,730.83 543.57,729.28 543.70,727.60 C543.83,725.92 543.72,724.12 543.50,722.60 C543.28,721.08 543.02,720.03 542.40,718.50 C541.78,716.97 540.67,715.08 539.80,713.40 C538.93,711.72 538.03,710.08 537.20,708.40 C536.37,706.72 535.55,705.00 534.80,703.30 C534.05,701.60 533.30,699.88 532.70,698.20 C532.10,696.52 531.62,694.55 531.20,693.20 C530.78,691.85 530.40,691.35 530.20,690.10 C530.00,688.85 529.93,687.38 530.00,685.70 C530.07,684.02 530.27,681.90 530.60,680.00 C530.93,678.10 531.57,676.18 532.00,674.30 C532.43,672.42 532.83,670.58 533.20,668.70 C533.57,666.82 533.95,664.90 534.20,663.00 C534.45,661.10 534.50,659.18 534.70,657.30 C534.90,655.42 535.12,653.58 535.40,651.70 C535.68,649.82 535.98,647.90 536.40,646.00 C536.82,644.10 537.30,642.18 537.90,640.30 C538.50,638.42 539.30,636.58 540.00,634.70 C540.70,632.82 541.38,630.90 542.10,629.00 C542.82,627.10 543.85,625.18 544.30,623.30 C544.75,621.42 544.67,619.58 544.80,617.70 C544.93,615.82 545.00,613.90 545.10,612.00 C545.20,610.10 545.35,607.25 545.40,606.30 Z" fill="url(#vg3)"/>
<path d="M592.60,555.90 C592.77,557.10 593.05,559.72 593.60,563.10 C594.15,566.48 595.13,571.82 595.90,576.20 C596.67,580.58 597.43,585.02 598.20,589.40 C598.97,593.78 599.73,598.13 600.50,602.50 C601.27,606.87 602.00,611.23 602.80,615.60 C603.60,619.97 604.52,624.33 605.30,628.70 C606.08,633.07 607.02,637.88 607.50,641.80 C607.98,645.72 608.30,649.47 608.20,652.20 C608.10,654.93 607.53,655.82 606.90,658.20 C606.27,660.58 605.18,663.75 604.40,666.50 C603.62,669.25 602.87,671.73 602.20,674.70 C601.53,677.67 600.78,680.87 600.40,684.30 C600.02,687.73 599.95,691.42 599.90,695.30 C599.85,699.18 600.10,703.72 600.10,707.60 C600.10,711.48 600.10,714.93 599.90,718.60 C599.70,722.27 599.37,726.17 598.90,729.60 C598.43,733.03 597.77,736.00 597.10,739.20 C596.43,742.40 595.65,745.37 594.90,748.80 C594.15,752.23 592.98,757.97 592.60,759.80 L592.60,759.80 C592.22,757.97 591.05,752.23 590.30,748.80 C589.55,745.37 588.77,742.40 588.10,739.20 C587.43,736.00 586.77,733.03 586.30,729.60 C585.83,726.17 585.50,722.27 585.30,718.60 C585.10,714.93 585.10,711.48 585.10,707.60 C585.10,703.72 585.35,699.18 585.30,695.30 C585.25,691.42 585.18,687.73 584.80,684.30 C584.42,680.87 583.67,677.67 583.00,674.70 C582.33,671.73 581.58,669.25 580.80,666.50 C580.02,663.75 578.93,660.58 578.30,658.20 C577.67,655.82 577.10,654.93 577.00,652.20 C576.90,649.47 577.22,645.72 577.70,641.80 C578.18,637.88 579.12,633.07 579.90,628.70 C580.68,624.33 581.60,619.97 582.40,615.60 C583.20,611.23 583.93,606.87 584.70,602.50 C585.47,598.13 586.23,593.78 587.00,589.40 C587.77,585.02 588.53,580.58 589.30,576.20 C590.07,571.82 591.05,566.48 591.60,563.10 C592.15,559.72 592.43,557.10 592.60,555.90 Z" fill="#00aaed" fill-opacity="0.57"/>
<path d="M644.10,555.40 C644.43,556.28 645.42,558.92 646.10,560.70 C646.78,562.48 647.53,564.30 648.20,566.10 C648.87,567.90 649.57,569.72 650.10,571.50 C650.63,573.28 651.05,575.02 651.40,576.80 C651.75,578.58 652.02,580.40 652.20,582.20 C652.38,584.00 652.47,585.82 652.50,587.60 C652.53,589.38 652.50,591.12 652.40,592.90 C652.30,594.68 652.08,596.52 651.90,598.30 C651.72,600.08 651.52,601.82 651.30,603.60 C651.08,605.38 650.83,607.20 650.60,609.00 C650.37,610.80 650.10,612.62 649.90,614.40 C649.70,616.18 649.52,617.92 649.40,619.70 C649.28,621.48 649.23,623.30 649.20,625.10 C649.17,626.90 649.10,628.77 649.20,630.50 C649.30,632.23 649.50,634.00 649.80,635.50 C650.10,637.00 650.37,637.43 651.00,639.50 C651.63,641.57 652.83,645.12 653.60,647.90 C654.37,650.68 655.18,653.83 655.60,656.20 C656.02,658.57 656.13,659.92 656.10,662.10 C656.07,664.28 655.87,666.72 655.40,669.30 C654.93,671.88 654.15,675.22 653.30,677.60 C652.45,679.98 651.35,681.62 650.30,683.60 C649.25,685.58 648.03,687.52 647.00,689.50 C645.97,691.48 644.90,693.52 644.10,695.50 C643.30,697.48 642.70,699.42 642.20,701.40 C641.70,703.38 641.37,705.42 641.10,707.40 C640.83,709.38 640.75,711.12 640.60,713.30 C640.45,715.48 640.27,719.30 640.20,720.50 L640.20,720.50 C640.13,719.30 639.95,715.48 639.80,713.30 C639.65,711.12 639.57,709.38 639.30,707.40 C639.03,705.42 638.70,703.38 638.20,701.40 C637.70,699.42 637.10,697.48 636.30,695.50 C635.50,693.52 634.43,691.48 633.40,689.50 C632.37,687.52 631.15,685.58 630.10,683.60 C629.05,681.62 627.95,679.98 627.10,677.60 C626.25,675.22 625.47,671.88 625.00,669.30 C624.53,666.72 624.33,664.28 624.30,662.10 C624.27,659.92 624.38,658.57 624.80,656.20 C625.22,653.83 626.03,650.68 626.80,647.90 C627.57,645.12 628.77,641.57 629.40,639.50 C630.03,637.43 630.30,637.00 630.60,635.50 C630.90,634.00 631.10,632.23 631.20,630.50 C631.30,628.77 631.23,626.90 631.20,625.10 C631.17,623.30 631.12,621.48 631.00,619.70 C630.88,617.92 630.70,616.18 630.50,614.40 C630.30,612.62 630.03,610.80 629.80,609.00 C629.57,607.20 629.32,605.38 629.10,603.60 C628.88,601.82 628.68,600.08 628.50,598.30 C628.32,596.52 628.10,594.68 628.00,592.90 C627.90,591.12 627.87,589.38 627.90,587.60 C627.93,585.82 628.02,584.00 628.20,582.20 C628.38,580.40 628.65,578.58 629.00,576.80 C629.35,575.02 629.77,573.28 630.30,571.50 C630.83,569.72 631.53,567.90 632.20,566.10 C632.87,564.30 633.62,562.48 634.30,560.70 C634.98,558.92 635.97,556.28 636.30,555.40 Z" fill="#66b851" fill-opacity="0.58"/>
<line x1="482.30" y1="616.40" x2="514.00" y2="616.40" stroke="#111" stroke-width="2"/>
<line x1="492.70" y1="586.00" x2="502.80" y2="586.00" stroke="#333" stroke-width="0.9" stroke-dasharray="2,1.3"/>
<line x1="486.10" y1="630.30" x2="509.80" y2="630.30" stroke="#333" stroke-width="0.9" stroke-dasharray="2,1.3"/>
<line x1="530.10" y1="683.60" x2="560.70" y2="683.60" stroke="#111" stroke-width="2"/>
<line x1="534.30" y1="659.00" x2="556.20" y2="659.00" stroke="#333" stroke-width="0.9" stroke-dasharray="2,1.3"/>
<line x1="533.10" y1="701.50" x2="558.00" y2="701.50" stroke="#333" stroke-width="0.9" stroke-dasharray="2,1.3"/>
<line x1="577.20" y1="652.30" x2="608.30" y2="652.30" stroke="#111" stroke-width="2"/>
<line x1="580.20" y1="625.70" x2="605.20" y2="625.70" stroke="#333" stroke-width="0.9" stroke-dasharray="2,1.3"/>
<line x1="585.80" y1="695.70" x2="599.50" y2="695.70" stroke="#333" stroke-width="0.9" stroke-dasharray="2,1.3"/>
<line x1="631.10" y1="632.60" x2="649.10" y2="632.60" stroke="#111" stroke-width="2"/>
<line x1="627.70" y1="591.50" x2="652.80" y2="591.50" stroke="#333" stroke-width="0.9" stroke-dasharray="2,1.3"/>
<line x1="624.30" y1="662.10" x2="656.10" y2="662.10" stroke="#333" stroke-width="0.9" stroke-dasharray="2,1.3"/>
<circle cx="497.80" cy="572.00" r="3.2" fill="#fff" stroke="#111" stroke-width="0.9"/>
<circle cx="497.80" cy="599.90" r="3.2" fill="#fff" stroke="#111" stroke-width="0.9"/>
<circle cx="491.60" cy="616.40" r="3.2" fill="#fff" stroke="#111" stroke-width="0.9"/>
<circle cx="503.80" cy="621.30" r="3.2" fill="#fff" stroke="#111" stroke-width="0.9"/>
<circle cx="497.80" cy="639.50" r="3.2" fill="#fff" stroke="#111" stroke-width="0.9"/>
<circle cx="545.40" cy="645.70" r="3.2" fill="#12aeea" stroke="#0d2a3a" stroke-width="0.9"/>
<circle cx="545.40" cy="659.00" r="3.2" fill="#12aeea" stroke="#0d2a3a" stroke-width="0.9"/>
<circle cx="545.40" cy="675.30" r="3.2" fill="#12aeea" stroke="#0d2a3a" stroke-width="0.9"/>
<circle cx="545.40" cy="683.40" r="3.2" fill="#12aeea" stroke="#0d2a3a" stroke-width="0.9"/>
<circle cx="545.40" cy="695.20" r="3.2" fill="#12aeea" stroke="#0d2a3a" stroke-width="0.9"/>
<circle cx="545.40" cy="701.50" r="3.2" fill="#12aeea" stroke="#0d2a3a" stroke-width="0.9"/>
<circle cx="545.40" cy="747.70" r="3.2" fill="#12aeea" stroke="#0d2a3a" stroke-width="0.9"/>
<circle cx="592.60" cy="593.30" r="3.2" fill="#12aeea" stroke="#0d2a3a" stroke-width="0.9"/>
<circle cx="592.60" cy="622.80" r="3.2" fill="#12aeea" stroke="#0d2a3a" stroke-width="0.9"/>
<circle cx="592.60" cy="634.40" r="3.2" fill="#12aeea" stroke="#0d2a3a" stroke-width="0.9"/>
<circle cx="592.60" cy="648.70" r="3.2" fill="#12aeea" stroke="#0d2a3a" stroke-width="0.9"/>
<circle cx="592.60" cy="655.60" r="3.2" fill="#12aeea" stroke="#0d2a3a" stroke-width="0.9"/>
<circle cx="592.60" cy="674.00" r="3.2" fill="#12aeea" stroke="#0d2a3a" stroke-width="0.9"/>
<circle cx="592.60" cy="703.20" r="3.2" fill="#12aeea" stroke="#0d2a3a" stroke-width="0.9"/>
<circle cx="592.60" cy="729.60" r="3.2" fill="#12aeea" stroke="#0d2a3a" stroke-width="0.9"/>
<circle cx="640.30" cy="567.00" r="3.2" fill="#45b345" stroke="#173417" stroke-width="0.9"/>
<circle cx="640.30" cy="575.10" r="3.2" fill="#45b345" stroke="#173417" stroke-width="0.9"/>
<circle cx="640.30" cy="581.90" r="3.2" fill="#45b345" stroke="#173417" stroke-width="0.9"/>
<circle cx="634.00" cy="600.10" r="3.2" fill="#45b345" stroke="#173417" stroke-width="0.9"/>
<circle cx="646.20" cy="595.10" r="3.2" fill="#45b345" stroke="#173417" stroke-width="0.9"/>
<circle cx="640.30" cy="609.60" r="3.2" fill="#45b345" stroke="#173417" stroke-width="0.9"/>
<circle cx="640.30" cy="624.40" r="3.2" fill="#45b345" stroke="#173417" stroke-width="0.9"/>
<circle cx="640.00" cy="641.00" r="3.2" fill="#45b345" stroke="#173417" stroke-width="0.9"/>
<circle cx="634.00" cy="650.50" r="3.2" fill="#45b345" stroke="#173417" stroke-width="0.9"/>
<circle cx="646.20" cy="655.60" r="3.2" fill="#45b345" stroke="#173417" stroke-width="0.9"/>
<circle cx="634.00" cy="658.60" r="3.2" fill="#45b345" stroke="#173417" stroke-width="0.9"/>
<circle cx="634.00" cy="671.90" r="3.2" fill="#45b345" stroke="#173417" stroke-width="0.9"/>
<circle cx="634.00" cy="678.80" r="3.2" fill="#45b345" stroke="#173417" stroke-width="0.9"/>
<circle cx="646.20" cy="677.00" r="3.2" fill="#45b345" stroke="#173417" stroke-width="0.9"/>
<line x1="466.50" y1="554.90" x2="466.50" y2="760.70" stroke="#333" stroke-width="1"/>
<line x1="466.00" y1="760.20" x2="672.00" y2="760.20" stroke="#333" stroke-width="1"/>
<line x1="459.50" y1="555.20" x2="466.50" y2="555.20" stroke="#333" stroke-width="1"/>
<text x="456.20" y="559.00" font-size="10.6" text-anchor="end" fill="#222">125</text>
<line x1="459.50" y1="596.20" x2="466.50" y2="596.20" stroke="#333" stroke-width="1"/>
<text x="456.20" y="600.00" font-size="10.6" text-anchor="end" fill="#222">100</text>
<line x1="459.50" y1="637.20" x2="466.50" y2="637.20" stroke="#333" stroke-width="1"/>
<text x="456.20" y="641.00" font-size="10.6" text-anchor="end" fill="#222">75</text>
<line x1="459.50" y1="678.20" x2="466.50" y2="678.20" stroke="#333" stroke-width="1"/>
<text x="456.20" y="682.00" font-size="10.6" text-anchor="end" fill="#222">50</text>
<line x1="459.50" y1="719.20" x2="466.50" y2="719.20" stroke="#333" stroke-width="1"/>
<text x="456.20" y="723.00" font-size="10.6" text-anchor="end" fill="#222">25</text>
<line x1="459.50" y1="760.20" x2="466.50" y2="760.20" stroke="#333" stroke-width="1"/>
<text x="456.20" y="764.00" font-size="10.6" text-anchor="end" fill="#222">0</text>
<line x1="497.40" y1="760.20" x2="497.40" y2="766.20" stroke="#333" stroke-width="1"/>
<line x1="545.40" y1="760.20" x2="545.40" y2="766.20" stroke="#333" stroke-width="1"/>
<line x1="592.70" y1="760.20" x2="592.70" y2="766.20" stroke="#333" stroke-width="1"/>
<line x1="640.30" y1="760.20" x2="640.30" y2="766.20" stroke="#333" stroke-width="1"/>
<polyline points="497.40,531.20 497.40,524.90 640.30,524.90 640.30,551.70" stroke="#555" stroke-width="0.9" fill="none"/>
<polyline points="497.40,541.50 497.40,536.10 592.70,536.10 592.70,551.70" stroke="#555" stroke-width="0.9" fill="none"/>
<polyline points="497.40,552.00 497.40,546.50 545.40,546.50 545.40,601.20" stroke="#555" stroke-width="0.9" fill="none"/>
<text x="569.20" y="521.20" font-size="9.3" text-anchor="middle" fill="#222">p=0.27</text>
<text x="545.60" y="538.60" font-size="14" font-weight="bold" text-anchor="middle" fill="#222">*</text>
<text x="521.70" y="549.30" font-size="14" font-weight="bold" text-anchor="middle" fill="#222">**</text>
<text x="0" y="0" font-size="11.4" font-weight="bold" text-anchor="middle" fill="#222" transform="translate(427.4 656.5) rotate(-90)">OC43 foci count</text>
<text x="422.60" y="790.70" font-size="11.7" font-weight="bold" text-anchor="middle" fill="#222">Reactivity</text>
<text x="422.60" y="821.70" font-size="11.7" font-weight="bold" text-anchor="middle" fill="#222">Neutralizing</text>
<text x="422.60" y="835.40" font-size="11.7" font-weight="bold" text-anchor="middle" fill="#222">fraction</text>
<text x="497.70" y="785.00" font-size="11.6" text-anchor="middle" fill="#222">Non-</text>
<text x="497.70" y="798.70" font-size="11.6" text-anchor="middle" fill="#222">reactive</text>
<text x="497.70" y="821.60" font-size="11.6" text-anchor="middle" fill="#222">0/5</text>
<text x="497.70" y="835.30" font-size="11.6" text-anchor="middle" fill="#222">(0%)</text>
<text x="545.30" y="785.00" font-size="11.6" text-anchor="middle" fill="#222">OC43</text>
<text x="545.30" y="798.70" font-size="11.6" text-anchor="middle" fill="#222">S1</text>
<text x="545.30" y="821.60" font-size="11.6" text-anchor="middle" fill="#222">7/7</text>
<text x="545.30" y="835.30" font-size="11.6" text-anchor="middle" fill="#222">(100%)</text>
<text x="592.30" y="785.00" font-size="11.6" text-anchor="middle" fill="#222">OC43</text>
<text x="592.30" y="798.70" font-size="11.6" text-anchor="middle" fill="#222">S2</text>
<text x="592.30" y="821.60" font-size="11.6" text-anchor="middle" fill="#222">5/8</text>
<text x="592.30" y="835.30" font-size="11.6" text-anchor="middle" fill="#222">(63%)</text>
<text x="640.00" y="785.00" font-size="11.6" text-anchor="middle" fill="#222">OC43 +</text>
<text x="640.00" y="798.70" font-size="11.6" text-anchor="middle" fill="#222">SARS2 S2</text>
<text x="640.00" y="821.60" font-size="11.6" text-anchor="middle" fill="#222">7/14</text>
<text x="640.00" y="835.30" font-size="11.6" text-anchor="middle" fill="#222">(50%)</text>
</svg></body></html>
